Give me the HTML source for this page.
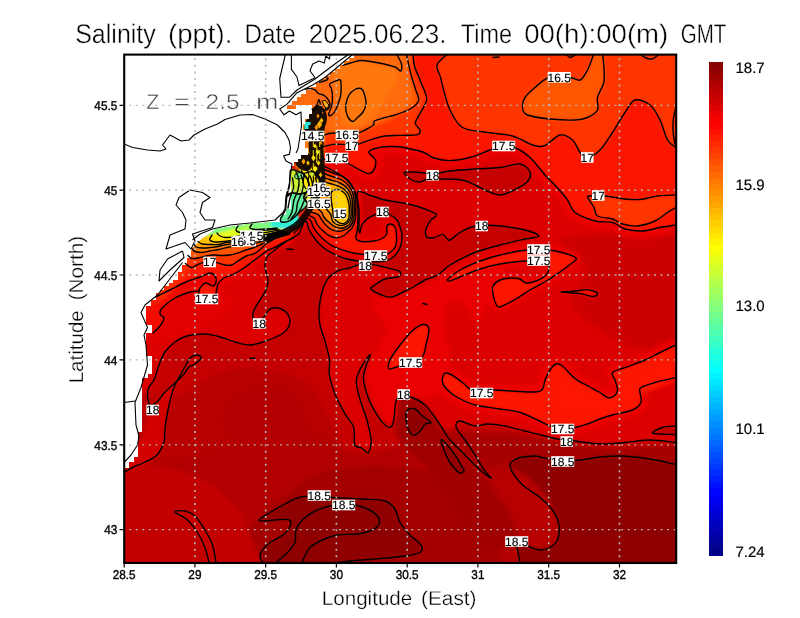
<!DOCTYPE html>
<html><head><meta charset="utf-8"><title>Salinity</title>
<style>html,body{margin:0;padding:0;background:#fff}svg{display:block}text{font-family:"Liberation Sans",sans-serif;text-rendering:geometricPrecision}</style></head><body>
<svg width="800" height="618" viewBox="0 0 800 618">
<defs>
<clipPath id="pc"><rect x="124" y="54" width="552" height="508.5"/></clipPath>
<filter id="bl" x="-5%" y="-5%" width="110%" height="110%"><feGaussianBlur stdDeviation="2.2"/></filter>
<filter id="bl2" x="-5%" y="-5%" width="110%" height="110%"><feGaussianBlur stdDeviation="1"/></filter>
<linearGradient id="jet" x1="0" y1="1" x2="0" y2="0"><stop offset="0" stop-color="#00008f"/><stop offset=".125" stop-color="#0000ff"/><stop offset=".375" stop-color="#00ffff"/><stop offset=".625" stop-color="#ffff00"/><stop offset=".875" stop-color="#ff0000"/><stop offset="1" stop-color="#800000"/></linearGradient>
</defs>
<rect width="800" height="618" fill="#fff"/>
<g clip-path="url(#pc)">
<g filter="url(#bl)">
<path d="M100 30H700V590H100Z" fill="#dc0000"/>
<path d="M110 580L110 472.5L124 472.5L132.5 467.5L145 462L157 455L164 442L165 430L167 415L171 397L175 385L182 372L186 365L190 358L197 355L201 358L195 364L189 367L184 374L175 383L165 392L157 402L150 406L147.5 397L149 387L154 380L159 365L165 352L175 342L187 336L205 334L217 336L235 342L250 345L266 341L282 334L288 328L290 320L286 312L278 308L270 309L266 314L259 323L253 318L254 310L260 300L266 290L268 280L265 267L267 257L275 250L287 241L299 234L302.5 226L304.6 221.2L307 222.5L308.4 228.2L312.3 235L318.2 242.7L325.9 249.5L336.6 255.3L346 258.7L358 261L375 262L387 260.5L392 258L397 253L401 245L402 235L401 230L397 220L389 214L382 212L376 214L367 219L361.5 226L360.2 232.3L359 230L359 211L357.5 192L369 195L385 200L400 202.5L412.5 205L425 209L436.5 214.5L430.5 220.6L426 229L426.5 237L434 237.7L442 234.4L447 238.5L450 240L460 232.5L470 227.5L481 225.5L500 226L525 230L539 236L525 239L500 245L475 252.5L450 265L437.5 275L425 280L412.5 287.5L405 291L392 297L382 295L371 289L375 285L385 279L398 277L400.5 274L399 271L390 268.5L380 266L371 264.5L358 265L350 268L340 270L333 274L327 280L322 292L319 310L320 325L324.6 340L329.4 359.4L329.4 375L335.2 394.4L345 413.8L353.7 427.4L354.7 444.9L361.5 447.8L368.3 452.6L371.2 441L369.2 429.3L366.3 417.7L361.5 404L357.6 390.5L356.6 378.8L362.4 365.2L370.2 354.6L366.3 365.2L363.4 376.9L365.3 388.5L369.2 400.2L374 409.9L381.8 421.6L389.6 427.4L393.5 421.6L395.4 404L397.4 398.3L403 396L412 397.5L425 405L435 417.5L445 432.5L450 440L462.5 452.5L475 465L482.5 472L487.5 476L491 478L487.5 474L482.5 467.5L475 455L465 440L457.5 430L456 425L460 421L475 426L487.5 424L505 426L525 431L545 436L560 439.5L575 441L600 444L625 442.5L650 440L676 442.5L690 442.5L690 580Z" fill="#c40000"/>
<path d="M404 173C403.8 171.7 407.7 172 411 172C414.3 172 420.5 172.6 424 173C427.5 173.4 427.7 174.8 432 174.5C436.3 174.2 442.8 171.9 450 171C457.2 170.1 466.7 169.6 475 169C483.3 168.4 492.5 168.3 500 167.5C507.5 166.7 515 163.2 520 164C525 164.8 528.8 169 530 172C531.2 175 530 178.8 527 182C524 185.2 516.5 188.8 512 191C507.5 193.2 504.2 195 500 195C495.8 195 491.2 192.7 487 191C482.8 189.3 479.2 186.8 475 185C470.8 183.2 468.3 181 462 180C455.7 179 442.8 179.1 437 179C431.2 178.9 429.8 178.8 427 179.3C424.2 179.8 422.5 181.9 420 182C417.5 182.1 414.7 181.5 412 180C409.3 178.5 404.2 174.3 404 173Z" fill="#c40000"/>
<path d="M676 426C673.8 426.2 666.4 426.4 662.5 427.5C658.6 428.6 652.9 431.4 652.5 432.5C652.1 433.6 656.1 433.7 660 434C663.9 434.3 673.3 434.4 676 434.5L690 434.5L690 426Z" fill="#c40000"/>
<path d="M110 400C121.7 366.7 150 405 170 400C190 395 208.3 373.3 230 370C251.7 366.7 283.3 371.7 300 380C316.7 388.3 320 405 330 420C340 435 341.7 468.3 360 470C378.3 471.7 416.7 435 440 430C463.3 425 486.7 433.3 500 440C513.3 446.7 510 443.3 520 470C530 496.7 630 578.3 560 600C490 621.7 175 633.3 100 600C25 566.7 98.3 433.3 110 400Z" fill="#b80000"/>
<path d="M124 480C140.7 455.8 170.7 463 200 455C229.3 447 274.2 432.5 300 432C325.8 431.5 338.3 449.8 355 452C371.7 454.2 385.8 448.7 400 445C414.2 441.3 423.3 430.8 440 430C456.7 429.2 486.7 433.3 500 440C513.3 446.7 510 443.3 520 470C530 496.7 630 578.3 560 600C490 621.7 172.7 620 100 600C27.3 580 107.3 504.2 124 480Z" fill="#b20000"/>
<path d="M230 400C238 393.3 258.3 385 270 385C281.7 385 294.2 390.8 300 400C305.8 409.2 308.3 430 305 440C301.7 450 290.8 458.3 280 460C269.2 461.7 249.7 455.8 240 450C230.3 444.2 223.7 433.3 222 425C220.3 416.7 222 406.7 230 400Z" fill="#b40000"/>
<path d="M330 470C353.3 465 395 465 420 470C445 475 466.7 485 480 500C493.3 515 500 543.3 500 560C500 576.7 530 593.3 480 600C430 606.7 240 610 200 600C160 590 226.7 556.7 240 540C253.3 523.3 265 511.7 280 500C295 488.3 306.7 475 330 470Z" fill="#a40000"/>
<path d="M395 400C398.3 393.3 410.8 393.3 420 400C429.2 406.7 438.3 425.8 450 440C461.7 454.2 478.3 468.3 490 485C501.7 501.7 521.7 530.8 520 540C518.3 549.2 493.3 550 480 540C466.7 530 453.3 496.7 440 480C426.7 463.3 407.5 453.3 400 440C392.5 426.7 391.7 406.7 395 400Z" fill="#a00000"/>
<path d="M440 440C445 433.7 473.3 430.8 500 432C526.7 433.2 568.3 444.8 600 447C631.7 449.2 675 441.2 690 445C705 448.8 705 466.7 690 470C675 473.3 628.3 466.3 600 465C571.7 463.7 541.7 461.2 520 462C498.3 462.8 483.3 473.7 470 470C456.7 466.3 435 446.3 440 440Z" fill="#a80000"/>
<path d="M100 475C111.7 453 149.2 464.7 170 468C190.8 471.3 211.7 483.8 225 495C238.3 506.2 244.5 517.5 250 535C255.5 552.5 283 589.2 258 600C233 610.8 126.3 620.8 100 600C73.7 579.2 88.3 497 100 475Z" fill="#c20000"/>
<path d="M216 562.5C215.4 559.6 214.3 550.4 212.5 545C210.7 539.6 207.9 534.8 205 530C202.1 525.2 198.3 519.2 195 516C191.7 512.8 188.3 511.7 185 511C181.7 510.3 174.6 510.5 175 512C175.4 513.5 183.8 516.6 187.5 520C191.2 523.4 194.6 527.9 197.5 532.5C200.4 537.1 203.1 542.5 205 547.5C206.9 552.5 208.3 560 209 562.5Z" fill="#c80000"/>
<path d="M124 473C129.8 471.7 139.5 465 145 462C150.5 459 153.8 458.3 157 455C160.2 451.7 162.7 446.2 164 442C165.3 437.8 164.5 434.5 165 430C165.5 425.5 166 420.5 167 415C168 409.5 172.2 399.5 171 397C169.8 394.5 163.5 398.2 160 400C156.5 401.8 153.3 401.3 150 408C146.7 414.7 146.7 429.7 140 440C133.3 450.3 112.7 464.5 110 470C107.3 475.5 118.2 474.3 124 473Z" fill="#d40000"/>
<path d="M372 300C374.3 294.3 388.7 299.7 400 296C411.3 292.3 426.7 283.3 440 278C453.3 272.7 469.2 265.7 480 264C490.8 262.3 503 262 505 268C507 274 497.5 289.7 492 300C486.5 310.3 477.7 318.7 472 330C466.3 341.3 463 357.7 458 368C453 378.3 449.2 387 442 392C434.8 397 422 398 415 398C408 398 403.2 388.7 400 392C396.8 395.3 398.3 413.3 396 418C393.7 422.7 389.7 423 386 420C382.3 417 377.2 407.5 374 400C370.8 392.5 367.2 382.5 367 375C366.8 367.5 369.8 362.5 373 355C376.2 347.5 386.2 339.2 386 330C385.8 320.8 369.7 305.7 372 300Z" fill="#ea0000"/>
<path d="M452 300C456.3 298.7 465.7 305.3 470 312C474.3 318.7 478 330.7 478 340C478 349.3 473.8 362.7 470 368C466.2 373.3 458.7 375.8 455 372C451.3 368.2 449.8 353.7 448 345C446.2 336.3 443.3 327.5 444 320C444.7 312.5 447.7 301.3 452 300Z" fill="#da0000"/>
<path d="M560 242C562.3 236 578.3 235.3 600 234C621.7 232.7 675 216.7 690 234C705 251.3 698.3 319 690 338C681.7 357 655 349.3 640 348C625 346.7 611.3 338 600 330C588.7 322 574.3 310 572 300C569.7 290 588 279.7 586 270C584 260.3 557.7 248 560 242Z" fill="#cc0000"/>
<path d="M160 305C168.3 297.8 189.2 294.5 200 292C210.8 289.5 219.7 287.3 225 290C230.3 292.7 235.3 302.2 232 308C228.7 313.8 216.2 319.7 205 325C193.8 330.3 174.2 338.3 165 340C155.8 341.7 150.8 340.8 150 335C149.2 329.2 151.7 312.2 160 305Z" fill="#e20000"/>
<path d="M322 160C323.2 159.8 326.7 158.8 329 158.5C331.3 158.2 332.7 157.1 336 158C339.3 158.9 344.9 161.9 349 164C353.1 166.1 357.3 168.8 360.6 170.4C363.9 172 366.6 173.6 368.8 173.6C371 173.6 372.4 172.3 373.6 170.4C374.8 168.5 376 164.2 376 162C376 159.8 374.8 159 373.6 157.4C372.4 155.8 368.8 153.9 368.8 152.5C368.8 151.1 370.9 149.9 373.6 149C376.3 148.1 380.9 147.2 385 146.8C389.1 146.4 393.7 146.4 398 146.8C402.3 147.2 406.7 148.1 411 149C415.3 149.9 420.2 151 424 152.5C427.8 154 429.5 156.7 433.8 158C438.1 159.3 444 160.7 450 160.6C456 160.5 463.3 159.3 470 157.5C476.7 155.7 484.5 151.9 490 150C495.5 148.1 498.8 146.4 503 146C507.2 145.6 510.5 145.6 515 147.5C519.5 149.4 525 152.9 530 157.5C535 162.1 540.4 169.9 545 175C549.6 180.1 553.8 183.8 557.5 188C561.2 192.2 564.6 195.9 567.5 200C570.4 204.1 570.4 209 575 212.5C579.6 216 588.8 219.3 595 221C601.2 222.7 607.5 221.2 612.5 222.5C617.5 223.8 620 227.6 625 229C630 230.4 636.7 231.2 642.5 231C648.3 230.8 654.4 228.5 660 227.5C665.6 226.5 673.3 225.4 676 225" fill="none" stroke="#ea0000" stroke-width="16" stroke-linejoin="round"/>
<path d="M294 233C295 232 298.2 229.1 300 227C301.8 224.9 303.8 221.9 305 220.5C306.2 219.1 306.5 218.3 307.5 218.4C308.5 218.5 309.9 219.4 310.9 220.9C311.9 222.4 312.1 225 313.3 227.2C314.5 229.4 316.2 231.7 318.2 234C320.1 236.3 322.4 238.7 325 240.8C327.6 242.9 330.5 245 333.7 246.6C336.9 248.2 341.3 249.5 344.4 250.5C347.4 251.5 348.7 252.1 352 252.8C355.3 253.5 360 254.1 364 254.5C368 254.9 372.2 255.6 376 255.5C379.8 255.4 384.2 254.9 387 254C389.8 253.1 391.5 251.5 393 250C394.5 248.5 395.4 247.5 396 245C396.6 242.5 396.7 238 396.5 235C396.3 232 396.1 228.8 395 227C393.9 225.2 391.4 224 390 224C388.6 224 387.2 225.4 386.7 227C386.1 228.6 387.5 231.8 386.7 233.7C385.9 235.6 384.2 237.3 382 238.5C379.8 239.7 377 240.5 373.7 241C370.4 241.5 364.9 241.9 362 241.5C359.1 241.1 356.8 240.4 356 238.5C355.2 236.6 357 233.4 357.3 230C357.6 226.6 357.9 222.2 358 218C358.1 213.8 358.2 209.2 357.8 205C357.4 200.8 356.8 196.6 355.5 193C354.2 189.4 352.2 186.3 350 183.5C347.8 180.7 345 178.2 342 176C339 173.8 335 171.7 332 170C329 168.3 325.3 166.7 324 166" fill="none" stroke="#ea0000" stroke-width="8" stroke-linejoin="round"/>
<path d="M293.6 238.2C292 238.9 286.8 240.8 283.8 242.3C280.8 243.8 278.4 245.7 275.7 247C273 248.3 270.1 249 267.6 250.4C265.2 251.8 263.6 253.4 261 255.3C258.4 257.2 254.8 259.9 252 262C249.2 264.1 247 266 244 268C241 270 237.3 272.3 234 274C230.7 275.7 226.7 276.3 224 278C221.3 279.7 219.3 281.5 218 284C216.7 286.5 217 290.5 216 293C215 295.5 214.7 298 212 299C209.3 300 202.2 300 200 299C197.8 298 199 294.8 199 293C199 291.2 198.8 289.7 200 288C201.2 286.3 203.8 283.3 206 283C208.2 282.7 211.3 286.2 213 286C214.7 285.8 215.7 283.7 216 282C216.3 280.3 216 277.5 215 276C214 274.5 212.5 272.8 210 273C207.5 273.2 204 275.5 200 277C196 278.5 191 279.8 186 282C181 284.2 175 287.5 170 290C165 292.5 158.3 295.8 156 297" fill="none" stroke="#ea0000" stroke-width="10" stroke-linejoin="round"/>
<path d="M448 279C449.7 277.2 454.7 273 460 270C465.3 267 473.3 263.5 480 261C486.7 258.5 492.3 256.8 500 255C507.7 253.2 517.8 250.8 526 250C534.2 249.2 542.7 249.5 549 250C555.3 250.5 559.5 251.7 564 253C568.5 254.3 574.7 256.3 576 258C577.3 259.7 574.7 260.7 572 263C569.3 265.3 564 269.2 560 272C556 274.8 553 277 548 280C543 283 535.3 286.8 530 290C524.7 293.2 521 296.2 516 299C511 301.8 503.3 306.2 500 307C496.7 307.8 497.2 306.2 496 304C494.8 301.8 493.5 297 493 294C492.5 291 491.8 288.3 493 286C494.2 283.7 497.2 281.3 500 280C502.8 278.7 506.7 278.2 510 278C513.3 277.8 517.3 278.2 520 279C522.7 279.8 523.3 282.7 526 283C528.7 283.3 532.7 282.3 536 281C539.3 279.7 543.8 277.5 546 275C548.2 272.5 549.2 268.2 549 266C548.8 263.8 546.8 262.3 545 261.5C543.2 260.7 541.2 261.1 538 261C534.8 260.9 532.3 260.5 526 261C519.7 261.5 507.7 262.7 500 264C492.3 265.3 486.7 266.8 480 269C473.3 271.2 465 275 460 277C455 279 452 280.7 450 281C448 281.3 446.3 280.8 448 279Z" fill="none" stroke="#ea0000" stroke-width="10" stroke-linejoin="round"/>
<path d="M389 369C387.3 368 388.2 364 390 360C391.8 356 396.3 349.8 400 345C403.7 340.2 408.2 334.4 412 331C415.8 327.6 420.2 324.8 423 324.5C425.8 324.2 428.5 325.6 429 329C429.5 332.4 427 340.5 426 345C425 349.5 424.8 353 423 356C421.2 359 418.8 361.3 415 363C411.2 364.7 404.3 365 400 366C395.7 367 390.7 370 389 369Z" fill="none" stroke="#ea0000" stroke-width="10" stroke-linejoin="round"/>
<path d="M676 345C673.3 346.2 665.2 350 660 352.5C654.8 355 650.8 357.5 645 360C639.2 362.5 630.4 365.4 625 367.5C619.6 369.6 614.2 370.4 612.5 372.5C610.8 374.6 614.2 377.1 615 380C615.8 382.9 617.7 387.3 617.5 390C617.3 392.7 615.7 394.8 614 396C612.3 397.2 609.8 398.1 607.5 397.5C605.2 396.9 602.9 394.2 600 392.5C597.1 390.8 594.2 389.3 590 387C585.8 384.7 579.6 382 575 378.5C570.4 375 565.7 368.4 562.5 366C559.3 363.6 558.1 363.3 556 364C553.9 364.7 551.8 367.3 550 370C548.2 372.7 546.2 376.8 545 380C543.8 383.2 544.2 387 542.5 389C540.8 391 540 391.7 535 392C530 392.3 519.2 391.3 512.5 391C505.8 390.7 500.2 390.1 495 390C489.8 389.9 485.2 390.7 481 390.5C476.8 390.3 473.1 390.3 470 389C466.9 387.7 465.8 385 462.5 382.5C459.2 380 453.1 375.4 450 374C446.9 372.6 445.2 372.6 444 374C442.8 375.4 441.9 379.8 442.5 382.5C443.1 385.2 445 387.5 447.5 390C450 392.5 452.9 395 457.5 397.5C462.1 400 467.9 403.1 475 405C482.1 406.9 492.5 407.8 500 409C507.5 410.2 513.8 410.7 520 412.5C526.2 414.3 532.5 417.8 537.5 420C542.5 422.2 545.9 424.6 550 426C554.1 427.4 557.8 428.2 562 428.5C566.2 428.8 570.8 428.2 575 427.5C579.2 426.8 583.3 425.4 587.5 424C591.7 422.6 595.8 420.5 600 419C604.2 417.5 607.1 416.5 612.5 415C617.9 413.5 627.8 412.1 632.5 410C637.2 407.9 639.8 405.4 641 402.5C642.2 399.6 640 395 640 392.5C640 390 638.5 389.2 641 387.5C643.5 385.8 649.2 384.2 655 382.5C660.8 380.8 672.5 378.3 676 377.5" fill="none" stroke="#ea0000" stroke-width="14" stroke-linejoin="round"/>
<path d="M404 173C403.8 171.7 407.7 172 411 172C414.3 172 420.5 172.6 424 173C427.5 173.4 427.7 174.8 432 174.5C436.3 174.2 442.8 171.9 450 171C457.2 170.1 466.7 169.6 475 169C483.3 168.4 492.5 168.3 500 167.5C507.5 166.7 515 163.2 520 164C525 164.8 528.8 169 530 172C531.2 175 530 178.8 527 182C524 185.2 516.5 188.8 512 191C507.5 193.2 504.2 195 500 195C495.8 195 491.2 192.7 487 191C482.8 189.3 479.2 186.8 475 185C470.8 183.2 468.3 181 462 180C455.7 179 442.8 179.1 437 179C431.2 178.9 429.8 178.8 427 179.3C424.2 179.8 422.5 181.9 420 182C417.5 182.1 414.7 181.5 412 180C409.3 178.5 404.2 174.3 404 173Z" fill="#c40000"/>
<path d="M322 160C323.2 159.8 326.7 158.8 329 158.5C331.3 158.2 332.7 157.1 336 158C339.3 158.9 344.9 161.9 349 164C353.1 166.1 357.3 168.8 360.6 170.4C363.9 172 366.6 173.6 368.8 173.6C371 173.6 372.4 172.3 373.6 170.4C374.8 168.5 376 164.2 376 162C376 159.8 374.8 159 373.6 157.4C372.4 155.8 368.8 153.9 368.8 152.5C368.8 151.1 370.9 149.9 373.6 149C376.3 148.1 380.9 147.2 385 146.8C389.1 146.4 393.7 146.4 398 146.8C402.3 147.2 406.7 148.1 411 149C415.3 149.9 420.2 151 424 152.5C427.8 154 429.5 156.7 433.8 158C438.1 159.3 444 160.7 450 160.6C456 160.5 463.3 159.3 470 157.5C476.7 155.7 484.5 151.9 490 150C495.5 148.1 498.8 146.4 503 146C507.2 145.6 510.5 145.6 515 147.5C519.5 149.4 525 152.9 530 157.5C535 162.1 540.4 169.9 545 175C549.6 180.1 553.8 183.8 557.5 188C561.2 192.2 564.6 195.9 567.5 200C570.4 204.1 570.4 209 575 212.5C579.6 216 588.8 219.3 595 221C601.2 222.7 607.5 221.2 612.5 222.5C617.5 223.8 620 227.6 625 229C630 230.4 636.7 231.2 642.5 231C648.3 230.8 654.4 228.5 660 227.5C665.6 226.5 673.3 225.4 676 225L690 225L690 40L280 40L280 160Z" fill="#fb1200"/>
<path d="M294 233C295 232 298.2 229.1 300 227C301.8 224.9 303.8 221.9 305 220.5C306.2 219.1 306.5 218.3 307.5 218.4C308.5 218.5 309.9 219.4 310.9 220.9C311.9 222.4 312.1 225 313.3 227.2C314.5 229.4 316.2 231.7 318.2 234C320.1 236.3 322.4 238.7 325 240.8C327.6 242.9 330.5 245 333.7 246.6C336.9 248.2 341.3 249.5 344.4 250.5C347.4 251.5 348.7 252.1 352 252.8C355.3 253.5 360 254.1 364 254.5C368 254.9 372.2 255.6 376 255.5C379.8 255.4 384.2 254.9 387 254C389.8 253.1 391.5 251.5 393 250C394.5 248.5 395.4 247.5 396 245C396.6 242.5 396.7 238 396.5 235C396.3 232 396.1 228.8 395 227C393.9 225.2 391.4 224 390 224C388.6 224 387.2 225.4 386.7 227C386.1 228.6 387.5 231.8 386.7 233.7C385.9 235.6 384.2 237.3 382 238.5C379.8 239.7 377 240.5 373.7 241C370.4 241.5 364.9 241.9 362 241.5C359.1 241.1 356.8 240.4 356 238.5C355.2 236.6 357 233.4 357.3 230C357.6 226.6 357.9 222.2 358 218C358.1 213.8 358.2 209.2 357.8 205C357.4 200.8 356.8 196.6 355.5 193C354.2 189.4 352.2 186.3 350 183.5C347.8 180.7 345 178.2 342 176C339 173.8 335 171.7 332 170C329 168.3 325.3 166.7 324 166L322 180L310 200L300 215Z" fill="#fb1200"/>
<path d="M293.6 238.2C292 238.9 286.8 240.8 283.8 242.3C280.8 243.8 278.4 245.7 275.7 247C273 248.3 270.1 249 267.6 250.4C265.2 251.8 263.6 253.4 261 255.3C258.4 257.2 254.8 259.9 252 262C249.2 264.1 247 266 244 268C241 270 237.3 272.3 234 274C230.7 275.7 226.7 276.3 224 278C221.3 279.7 219.3 281.5 218 284C216.7 286.5 217 290.5 216 293C215 295.5 214.7 298 212 299C209.3 300 202.2 300 200 299C197.8 298 199 294.8 199 293C199 291.2 198.8 289.7 200 288C201.2 286.3 203.8 283.3 206 283C208.2 282.7 211.3 286.2 213 286C214.7 285.8 215.7 283.7 216 282C216.3 280.3 216 277.5 215 276C214 274.5 212.5 272.8 210 273C207.5 273.2 204 275.5 200 277C196 278.5 191 279.8 186 282C181 284.2 175 287.5 170 290C165 292.5 158.3 295.8 156 297L140 300L180 240L290 222Z" fill="#fb1200"/>
<path d="M199 291C197.5 291.2 194 290.8 190 292C186 293.2 179.7 295.3 175 298C170.3 300.7 164.5 305.3 162 308C159.5 310.7 159.7 312.3 160 314C160.3 315.7 164 316 164 318C164 320 161.8 323.5 160 326C158.2 328.5 154.2 331.8 153 333L140 335L140 300L199 285Z" fill="#f20800"/>
<path d="M448 279C449.7 277.2 454.7 273 460 270C465.3 267 473.3 263.5 480 261C486.7 258.5 492.3 256.8 500 255C507.7 253.2 517.8 250.8 526 250C534.2 249.2 542.7 249.5 549 250C555.3 250.5 559.5 251.7 564 253C568.5 254.3 574.7 256.3 576 258C577.3 259.7 574.7 260.7 572 263C569.3 265.3 564 269.2 560 272C556 274.8 553 277 548 280C543 283 535.3 286.8 530 290C524.7 293.2 521 296.2 516 299C511 301.8 503.3 306.2 500 307C496.7 307.8 497.2 306.2 496 304C494.8 301.8 493.5 297 493 294C492.5 291 491.8 288.3 493 286C494.2 283.7 497.2 281.3 500 280C502.8 278.7 506.7 278.2 510 278C513.3 277.8 517.3 278.2 520 279C522.7 279.8 523.3 282.7 526 283C528.7 283.3 532.7 282.3 536 281C539.3 279.7 543.8 277.5 546 275C548.2 272.5 549.2 268.2 549 266C548.8 263.8 546.8 262.3 545 261.5C543.2 260.7 541.2 261.1 538 261C534.8 260.9 532.3 260.5 526 261C519.7 261.5 507.7 262.7 500 264C492.3 265.3 486.7 266.8 480 269C473.3 271.2 465 275 460 277C455 279 452 280.7 450 281C448 281.3 446.3 280.8 448 279Z" fill="#fb1200"/>
<path d="M561 292C560.3 291.6 571.8 291.4 576 291C580.2 290.6 582.7 289.4 586 289.6C589.3 289.8 594.2 291.1 596 292C597.8 292.9 597.7 294.3 597 295C596.3 295.7 594.8 296.6 592 296.4C589.2 296.2 585.2 294.3 580 293.6C574.8 292.9 561.7 292.4 561 292Z" fill="#fb1200"/>
<path d="M389 369C387.3 368 388.2 364 390 360C391.8 356 396.3 349.8 400 345C403.7 340.2 408.2 334.4 412 331C415.8 327.6 420.2 324.8 423 324.5C425.8 324.2 428.5 325.6 429 329C429.5 332.4 427 340.5 426 345C425 349.5 424.8 353 423 356C421.2 359 418.8 361.3 415 363C411.2 364.7 404.3 365 400 366C395.7 367 390.7 370 389 369Z" fill="#fb1200"/>
<path d="M676 345C673.3 346.2 665.2 350 660 352.5C654.8 355 650.8 357.5 645 360C639.2 362.5 630.4 365.4 625 367.5C619.6 369.6 614.2 370.4 612.5 372.5C610.8 374.6 614.2 377.1 615 380C615.8 382.9 617.7 387.3 617.5 390C617.3 392.7 615.7 394.8 614 396C612.3 397.2 609.8 398.1 607.5 397.5C605.2 396.9 602.9 394.2 600 392.5C597.1 390.8 594.2 389.3 590 387C585.8 384.7 579.6 382 575 378.5C570.4 375 565.7 368.4 562.5 366C559.3 363.6 558.1 363.3 556 364C553.9 364.7 551.8 367.3 550 370C548.2 372.7 546.2 376.8 545 380C543.8 383.2 544.2 387 542.5 389C540.8 391 540 391.7 535 392C530 392.3 519.2 391.3 512.5 391C505.8 390.7 500.2 390.1 495 390C489.8 389.9 485.2 390.7 481 390.5C476.8 390.3 473.1 390.3 470 389C466.9 387.7 465.8 385 462.5 382.5C459.2 380 453.1 375.4 450 374C446.9 372.6 445.2 372.6 444 374C442.8 375.4 441.9 379.8 442.5 382.5C443.1 385.2 445 387.5 447.5 390C450 392.5 452.9 395 457.5 397.5C462.1 400 467.9 403.1 475 405C482.1 406.9 492.5 407.8 500 409C507.5 410.2 513.8 410.7 520 412.5C526.2 414.3 532.5 417.8 537.5 420C542.5 422.2 545.9 424.6 550 426C554.1 427.4 557.8 428.2 562 428.5C566.2 428.8 570.8 428.2 575 427.5C579.2 426.8 583.3 425.4 587.5 424C591.7 422.6 595.8 420.5 600 419C604.2 417.5 607.1 416.5 612.5 415C617.9 413.5 627.8 412.1 632.5 410C637.2 407.9 639.8 405.4 641 402.5C642.2 399.6 640 395 640 392.5C640 390 638.5 389.2 641 387.5C643.5 385.8 649.2 384.2 655 382.5C660.8 380.8 672.5 378.3 676 377.5L690 377.5L690 345Z" fill="#fb1200"/>
<path d="M560 385C566.7 384.2 586.7 400.8 600 400C613.3 399.2 627.3 385.8 640 380C652.7 374.2 667.7 366.3 676 365C684.3 363.7 696 367 690 372C684 377 655 388.3 640 395C625 401.7 613.3 410.3 600 412C586.7 413.7 566.7 409.5 560 405C553.3 400.5 553.3 385.8 560 385Z" fill="#ff1400"/>
<path d="M322 147C323.8 146.6 329.3 144.8 333 144.4C336.7 144 341 144.3 344 144.4C347 144.5 348.8 145 351 145C353.2 145 354.4 145.2 357.4 144.4C360.4 143.6 364.2 141.7 368.8 140.3C373.4 138.9 379.6 136.8 385 136C390.4 135.2 395.6 135.6 401 135.4C406.4 135.2 414.3 135.5 417.5 134.6C420.7 133.7 420.4 131.7 420 129.8C419.6 127.9 415.2 126 415.4 123C415.6 120 419.1 115.8 421 111.8C422.9 107.8 426.7 103.7 426.7 98.8C426.7 93.9 423 88 421 82.5C419 77 415.8 70.8 414.5 66C413.2 61.2 413.2 56 413 54L413 40L280 40L280 147Z" fill="#ff3400"/>
<path d="M447.5 54C445.8 55.8 438.1 61.1 437 65C435.9 68.9 439.5 73.3 440.6 77.6C441.7 81.9 442.2 85.2 443.8 90.6C445.4 96 446.9 103.8 450 110C453.1 116.2 456.2 123.8 462.5 127.5C468.8 131.2 479.2 131.1 487.5 132.5C495.8 133.9 505 133.9 512.5 136C520 138.1 527.1 143.4 532.5 145C537.9 146.6 540.4 147.2 545 145.5C549.6 143.8 555.4 135.9 560 135C564.6 134.1 569.2 137.1 572.5 140C575.8 142.9 577.6 149.5 580 152.5C582.4 155.5 583.7 158.4 587 158C590.3 157.6 595.8 154.2 600 150C604.2 145.8 608.3 138.8 612.5 132.5C616.7 126.2 621.2 117.9 625 112.5C628.8 107.1 630.8 101.2 635 100C639.2 98.8 645.8 101.7 650 105C654.2 108.3 657.1 114.2 660 120C662.9 125.8 664.8 135.4 667.5 140C670.2 144.6 674.6 146.2 676 147.5L690 147.5L690 40L447.5 40Z" fill="#ff3400"/>
<path d="M676 195C672.9 195.2 663.5 195.2 657.5 196C651.5 196.8 645.4 199 640 199.5C634.6 200 630.8 199.6 625 199C619.2 198.4 610.8 196.5 605 196C599.2 195.5 592.8 195.7 590 196C587.2 196.3 587.3 196.1 588 198C588.7 199.9 592.4 204.5 594 207.5C595.6 210.5 594.4 214.1 597.5 216C600.6 217.9 608.3 217.7 612.5 219C616.7 220.3 618.3 222.8 622.5 224C626.7 225.2 632.1 226.5 637.5 226C642.9 225.5 650 223.2 655 221C660 218.8 664 214.8 667.5 212.5C671 210.2 674.6 208.3 676 207.5L690 207.5L690 195Z" fill="#ff3400"/>
<path d="M290 234C289 234.3 286.5 235 283.8 235.8C281.1 236.6 277 237.6 274 239C271 240.4 268.2 242.4 266 244C263.8 245.6 262.9 247.2 261 248.8C259.1 250.4 256.9 252.4 254.5 253.6C252.1 254.8 249.2 254.8 246.4 256C243.7 257.2 240.4 259.5 238 261C235.6 262.5 234 264.3 231.8 265C229.6 265.7 227.5 265.4 225 265C222.5 264.6 219.7 263.1 217 262.6C214.3 262.1 211.4 262 209 262C206.6 262 204.7 262 202.5 262.6C200.3 263.2 197.9 264.7 196 265.5C194.1 266.3 192.8 267.9 191 267.5C189.2 267.1 186.3 264.1 185.4 263.4L170 265L190 235L290 220Z" fill="#ff3400"/>
<path d="M185 263C188.5 262.6 190.8 265.5 191 267.5C191.2 269.5 188.5 271.9 186 275C183.5 278.1 179.3 282.5 176 286C172.7 289.5 169 293.5 166 296C163 298.5 160.7 300.3 158 301C155.3 301.7 148 305.2 150 300C152 294.8 164.2 276.2 170 270C175.8 263.8 181.5 263.4 185 263Z" fill="#ff2c00"/>
<path d="M320 137C321.3 136.5 325.3 134.5 328 133.8C330.7 133.1 333 132.9 336 133C339 133.1 342.3 134.5 346 134.5C349.7 134.5 354.5 133.9 358 133C361.5 132.1 364.4 130.3 367 129C369.6 127.7 372.4 126.2 373.6 124.9C374.9 123.6 372.6 122.2 374.5 121C376.4 119.8 381.6 118.5 385 117.5C388.4 116.5 390.7 116.5 395 115C399.3 113.5 407.1 110.9 411 108.5C414.9 106.1 417.8 103.4 418.6 100.4C419.4 97.4 417.3 94.9 416 90.6C414.7 86.3 412.6 80.5 411 74.4C409.4 68.3 407.2 57.4 406.4 54L406 40L280 40L280 137Z" fill="#ff5600"/>
<path d="M593.8 54C592.7 56.7 589.8 65.7 587.5 70C585.2 74.3 582.9 78.8 580 80C577.1 81.2 575.2 77.9 570 77.5C564.8 77.1 554.8 75.8 549 77.5C543.2 79.2 539 84.2 535 87.5C531 90.8 527.1 94.2 525 97.5C522.9 100.8 522.1 104.6 522.5 107.5C522.9 110.4 522.9 113.1 527.5 115C532.1 116.9 542.1 118.2 550 119C557.9 119.8 568.8 120.2 575 120C581.2 119.8 583.8 119.2 587.5 117.5C591.2 115.8 595.8 113.3 597.5 110C599.2 106.7 596.5 102.1 597.5 97.5C598.5 92.9 602.7 87.9 603.8 82.5C604.8 77.1 604 69.8 603.8 65C603.5 60.2 602.7 55.8 602.5 54L602.5 40L593.8 40Z" fill="#ff5600"/>
<path d="M343 65.4C344.5 64.9 348.8 63.3 352 62.5C355.2 61.7 358 60.4 362.5 60.5C367 60.6 373.6 61.9 379 63C384.4 64.1 391.4 65.7 395 67C398.6 68.3 399.6 71.5 400.7 71C401.8 70.5 402.2 66.8 401.5 64C400.8 61.2 397.4 55.7 396.6 54L396.6 40L330 40L330 65Z" fill="#ff7812"/>
<path d="M346 104C346.5 101.3 347.5 97.4 349 95C350.5 92.6 353 90.6 355 89.5C357 88.4 359.5 87.9 361 88.5C362.5 89.1 363.2 90.4 364 93C364.8 95.6 366.2 100.8 366 104C365.8 107.2 364.5 109.7 363 112C361.5 114.3 358.7 116.4 357 118C355.3 119.6 354.4 121.5 353 121.5C351.6 121.5 349.7 119.8 348.5 118C347.3 116.2 346.4 113.3 346 111C345.6 108.7 345.5 106.7 346 104Z" fill="#ff7812"/>
<path d="M329.5 84.3C330.1 83.1 333 82 334.8 81.3C336.6 80.6 339.1 79.2 340.2 79.9C341.2 80.6 341 83.1 341.1 85.7C341.2 88.3 341.3 92.2 340.7 95.4C340.1 98.6 338.8 102.2 337.7 105.1C336.6 108 335.3 111.1 333.9 112.9C332.5 114.7 330.3 115.8 329.5 115.8C328.7 115.8 328.6 114.7 329 112.9C329.4 111.1 331.3 108 331.9 105.1C332.5 102.2 332.5 98.2 332.4 95.4C332.3 92.7 331.9 90.4 331.4 88.6C330.9 86.8 328.9 85.5 329.5 84.3Z" fill="#ff4a08"/>
<path d="M300 50C318.3 40 382 45.8 400 50C418 54.2 406 66.7 408 75C410 83.3 414.2 93.2 412 100C409.8 106.8 402 111.7 395 116C388 120.3 380 123.3 370 126C360 128.7 344.2 132.7 335 132C325.8 131.3 322.5 125.7 315 122C307.5 118.3 292.5 122 290 110C287.5 98 281.7 60 300 50Z" fill="#ff6a08"/>
<path d="M335 62C342 56.3 369.5 64 380 66C390.5 68 397.2 68.3 398 74C398.8 79.7 390.5 92 385 100C379.5 108 371.7 118 365 122C358.3 126 349.5 127.7 345 124C340.5 120.3 339.7 110.3 338 100C336.3 89.7 328 67.7 335 62Z" fill="#ff780e"/>
<path d="M520 562.5C519.6 560.2 518.2 552.6 517.5 549C516.8 545.4 514.3 541.5 516 541C517.7 540.5 523.5 544.5 527.5 546C531.5 547.5 536.2 549.8 540 550C543.8 550.2 547.1 549.2 550 547.5C552.9 545.8 556 543.8 557.5 540C559 536.2 559.8 530 559 525C558.2 520 555.7 514.6 552.5 510C549.3 505.4 545 501.7 540 497.5C535 493.3 527.1 489.2 522.5 485C517.9 480.8 514.6 475.8 512.5 472.5C510.4 469.2 509.9 466.9 510 465C510.1 463.1 511.3 462.2 513 461C514.7 459.8 516.3 458.3 520 457.5C523.7 456.7 530 455.8 535 456C540 456.2 543.3 458.2 550 459C556.7 459.8 566.7 460.8 575 460.5C583.3 460.2 592.5 457.8 600 457C607.5 456.2 611.7 455.7 620 456C628.3 456.3 640.7 457.6 650 459C659.3 460.4 671.7 463.6 676 464.5L690 464.5L690 580L520 580Z" fill="#8f0000"/>
<path d="M441 440C441.2 438.8 442.7 440 445 442.5C447.3 445 452.1 450.8 455 455C457.9 459.2 461 464.8 462.5 467.5C464 470.2 464.6 470.2 464 471C463.4 471.8 461.3 473.9 459 472.5C456.7 471.1 452.5 466.2 450 462.5C447.5 458.8 445.5 453.8 444 450C442.5 446.2 440.8 441.2 441 440Z" fill="#8f0000"/>
<path d="M407.5 410C409 408.2 412.5 408 415 409C417.5 410 419.8 413.8 422.5 416C425.2 418.2 430.6 421.2 431 422.5C431.4 423.8 426.7 422.8 425 424C423.3 425.2 422.7 428.2 421 430C419.3 431.8 416.8 434.6 415 435C413.2 435.4 411.5 435 410 432.5C408.5 430 406.4 423.8 406 420C405.6 416.2 406 411.8 407.5 410Z" fill="#8f0000"/>
<path d="M337.5 562.5C339.6 562.2 343.8 561.6 350 561C356.2 560.4 365.8 559.8 375 559C384.2 558.2 397.5 557.1 405 556C412.5 554.9 417.3 554.3 420 552.5C422.7 550.7 422.7 547.9 421 545C419.3 542.1 413.5 538.8 410 535C406.5 531.2 402.5 526.8 400 522.5C397.5 518.2 397.5 512.6 395 509C392.5 505.4 390.4 502.7 385 501C379.6 499.3 371.2 499.6 362.5 499C353.8 498.4 339.9 498 332.5 497.5C325.1 497 323.6 496 318 496C312.4 496 304.5 496.2 299 497.5C293.5 498.8 289.8 501.5 285 504C280.2 506.5 274.3 509.8 270 512.5C265.7 515.2 258.2 519.2 259 520.5C259.8 521.8 270.2 520.2 275 520C279.8 519.8 284.8 519 287.5 519.5C290.2 520 291.4 520.7 291 523C290.6 525.3 288.5 530.2 285 533.5C281.5 536.8 273.8 539.8 270 542.5C266.2 545.2 264.2 547.6 262.5 550C260.8 552.4 259.9 554.9 260 557C260.1 559.1 262.5 561.6 263 562.5L263 580L337.5 580Z" fill="#8f0000"/>
<path d="M516 470C524.3 472.5 538.2 486.7 545 495C551.8 503.3 555.7 512.2 557 520C558.3 527.8 556.7 537.7 553 542C549.3 546.3 540.5 546.3 535 546C529.5 545.7 524.5 547.7 520 540C515.5 532.3 512.2 510 508 500C503.8 490 493.7 485 495 480C496.3 475 507.7 467.5 516 470Z" fill="#b80000"/>
</g>
<g filter="url(#bl2)">
<path d="M323 169C324.7 169.7 329.5 171.7 333 173C336.5 174.3 341 175.2 344 177C347 178.8 349.2 181.2 351 184C352.8 186.8 354.2 190.3 355 194C355.8 197.7 355.8 201.8 355.8 206C355.9 210.2 355.9 215.3 355.3 219C354.7 222.7 353.2 225.9 352 228C350.8 230.1 349.6 230.2 348.3 231.5C347 232.8 345.9 234.4 344 235.5C342.1 236.6 339.1 237.9 336.6 237.9C334.1 237.9 331.2 236.7 328.8 235.4C326.4 234.1 323.9 231.9 322 230.1C320.1 228.2 318.5 226.2 317.2 224.3C315.9 222.4 315.6 219.9 314.3 218.4C313 216.9 310.2 216 309.4 215.5L305 205L305 190L315 170Z" fill="#ff2e00"/>
<path d="M322.5 173C324.1 173.6 328.8 175.3 332 176.5C335.2 177.7 339.2 178.4 342 180C344.8 181.6 347.1 183.5 349 186C350.9 188.5 352.4 191.7 353.3 195C354.2 198.3 354.1 202.2 354.2 206C354.3 209.8 354.4 214.7 353.8 218C353.2 221.3 351.8 224.2 350.5 226C349.2 227.8 348 228.2 346.3 229.1C344.6 229.9 342.8 230.9 340.5 231.1C338.2 231.3 335.1 231.1 332.7 230.1C330.3 229.1 327.8 227.1 325.9 225.2C324 223.3 322.4 220.7 321.1 218.9C319.8 217.1 319.9 215.7 318.2 214.6C316.5 213.5 312.1 212.5 310.9 212.1L305 205L305 190L315 170Z" fill="#ff5a00"/>
<path d="M322 177C323.5 177.5 328 179 331 180C334 181 337.3 181.7 340 183C342.7 184.3 345.1 185.8 347 188C348.9 190.2 350.6 193 351.5 196C352.4 199 352.5 202.5 352.6 206C352.7 209.5 352.8 214 352.3 217C351.8 220 350.4 222.5 349.5 224C348.6 225.5 348 225.5 346.8 226.2C345.6 226.9 344.3 228 342.4 228.2C340.5 228.4 337.9 228.2 335.6 227.2C333.3 226.2 330.8 224.1 328.8 222.3C326.8 220.5 324.6 218.1 323.5 216.5C322.4 214.9 322.9 213.8 322 212.6C321.1 211.3 318.7 209.6 318 209L305 205L305 190L315 170Z" fill="#ff8600"/>
<path d="M322 181C323.3 181.4 327.3 182.7 330 183.5C332.7 184.3 335.5 184.9 338 186C340.5 187.1 343.1 188.2 345 190C346.9 191.8 348.5 194.3 349.5 197C350.5 199.7 350.8 202.8 351 206C351.2 209.2 351.4 213.3 351 216C350.6 218.7 349.4 220.8 348.3 222.3C347.2 223.8 346 224.3 344.4 224.8C342.8 225.3 340.4 225.8 338.5 225.2C336.6 224.6 334 223.2 332.7 221.4C331.4 219.6 331.8 216.6 330.8 214.6C329.8 212.6 328.4 211.5 326.9 209.7C325.4 207.9 322.8 204.9 322 204L305 205L305 190L315 170Z" fill="#ffae00"/>
<path d="M331.5 192C332.3 190.8 334.4 189.8 336 189.5C337.6 189.2 339.3 189.6 341 190.5C342.7 191.4 344.7 192.9 346 195C347.3 197.1 348.2 200.2 348.8 203C349.4 205.8 349.4 209.3 349.3 212C349.2 214.7 349.3 217.1 348.5 219C347.7 220.9 346.1 222.8 344.4 223.3C342.7 223.9 340.3 223.3 338.5 222.3C336.7 221.3 334.7 219.6 333.7 217.5C332.7 215.4 333 212 332.7 209.7C332.4 207.4 332 206 331.7 203.9C331.4 201.8 331 199 331 197C331 195 330.7 193.2 331.5 192Z" fill="#ffc400"/>
<path d="M335 194C336.1 192.5 339.2 193 341 194C342.8 195 344.7 197.3 345.5 200C346.3 202.7 346.2 207.2 346 210C345.8 212.8 345.2 215.7 344 217C342.8 218.3 340.3 218.8 339 218C337.7 217.2 336.8 214.5 336 212C335.2 209.5 334.7 206 334.5 203C334.3 200 333.9 195.5 335 194Z" fill="#ffd400"/>
<path d="M290 233C288.3 233.6 283.3 235.3 280 236.5C276.7 237.7 273 238.8 270 240C267 241.2 264.7 242.8 262 244C259.3 245.2 256.7 246.5 254 247.5C251.3 248.5 248.7 249.1 246 250C243.3 250.9 240.7 252.2 238 253C235.3 253.8 232.7 254.6 230 255C227.3 255.4 224.7 255.5 222 255.5C219.3 255.5 216.7 254.9 214 255C211.3 255.1 208.7 255.5 206 256C203.3 256.5 200.3 257.6 198 258C195.7 258.4 193.7 258.9 192 258.5C190.3 258.1 188.7 256 188 255.5L190 240L205 226L292 212Z" fill="#ff5400"/>
<path d="M288 232.5C286 233.1 279.9 234.6 276 236C272.1 237.4 268.4 239.3 264.3 240.7C260.2 242.1 256.2 243.3 251.3 244.2C246.4 245.1 239.1 245.4 235 246C230.9 246.6 229.7 246.9 227 247.5C224.3 248.1 221.6 248.9 218.8 249.5C216 250.1 212.7 250.5 210 251C207.3 251.5 205 252.4 202.5 252.5C200 252.6 196.8 252.2 195 251.5C193.2 250.8 192.5 249 192 248.5L190 240L205 226L292 212Z" fill="#ff7800"/>
<path d="M286 232C282.9 233 271.8 236.9 267.6 238.2C263.4 239.5 265.1 239 261 239.8C256.9 240.6 248.7 242.2 243 243C237.3 243.8 231.2 243.9 227 244.5C222.8 245.1 220.7 246 218 246.5C215.3 247 213.3 247.2 210.6 247.5C207.9 247.8 204.4 248.1 202 248C199.6 247.9 197.3 247.7 196 247C194.7 246.3 194.3 244.5 194 244L190 240L205 226L292 212Z" fill="#ff9c00"/>
<path d="M284 231.5C281 232.3 271.7 235.2 266 236.5C260.3 237.8 254.7 238.7 250 239.5C245.3 240.3 242 241 238 241.5C234 242 229.2 242 226 242.5C222.8 243 221.5 244.2 218.8 244.5C216.1 244.8 212.8 244.6 210 244.5C207.2 244.4 204 244.5 202 244C200 243.5 198.7 241.9 198 241.5L190 240L205 226L292 212Z" fill="#ffc000"/>
<path d="M282 231C279 231.7 269.7 233.9 264 235C258.3 236.1 252.7 236.7 248 237.5C243.3 238.3 240.1 239.3 236 240C231.9 240.7 227.2 241.2 223.7 241.5C220.2 241.8 217.3 242.3 215 242C212.7 241.7 210.3 241 209.8 239.8C209.3 238.6 211.6 235.8 212 235L190 240L205 226L292 212Z" fill="#ffe400"/>
<path d="M280 230C277 230.5 267.7 232.2 262 233C256.3 233.8 250.3 234.4 246 235C241.7 235.6 239.3 236.1 236 236.5C232.7 236.9 228.7 237.6 226 237.5C223.3 237.4 221.5 236.8 220 236C218.5 235.2 217.5 233.5 217 233L190 240L205 226L292 212Z" fill="#e0ff20"/>
<path d="M278 229C275.3 229.2 267 230 262 230.5C257 231 251.7 231.7 248 232C244.3 232.3 242 232.8 240 232.5C238 232.2 236.3 231.1 236 230C235.7 228.9 237.7 226.7 238 226L190 240L205 226L292 212Z" fill="#b0ff50"/>
<path d="M277 228C275.2 228.2 269.5 228.8 266 229C262.5 229.2 258.7 229.7 256 229.5C253.3 229.3 250.7 228.9 250 228C249.3 227.1 251.7 224.7 252 224L190 240L205 226L292 212Z" fill="#80ff80"/>
<path d="M300 222C300 225.8 295 226.8 292 228C289 229.2 285 229.2 282 229C279 228.8 276 227.7 274 227C272 226.3 270 226 270 225C270 224 271.5 222.7 274 221C276.5 219.3 282 217.7 285 215C288 212.3 289.5 203.8 292 205C294.5 206.2 300 218.2 300 222Z" fill="#30f0d8"/>
<path d="M312 200C312.3 198 316.2 197 318 196C319.8 195 321.3 193.7 323 194C324.7 194.3 326.8 196 328 198C329.2 200 330 203.7 330 206C330 208.3 329.3 211 328 212C326.7 213 324 212.7 322 212C320 211.3 317.7 210 316 208C314.3 206 311.7 202 312 200Z" fill="#ff9400"/>
<path d="M303.7 174.2C304.5 172.9 310.1 171.3 312.7 171.7C315.3 172.1 317.8 174.6 319.2 176.8C320.6 179 320.9 182 321 185C321.1 188 321.2 192.5 320 195C318.8 197.5 316 198.7 314 200C312 201.3 309.7 203.4 308 203C306.3 202.6 304 199.4 303.7 197.6C303.4 195.8 305.4 194.3 306.3 192.4C307.2 190.5 308.7 188.1 308.9 185.9C309.1 183.7 308.5 181.4 307.6 179.4C306.7 177.4 302.9 175.5 303.7 174.2Z" fill="#ffdc00"/>
<path d="M290.7 170C291.7 169.1 293.7 169.6 295.9 170.3C298.1 171 301.8 172.7 303.7 174.2C305.6 175.7 306.7 177.4 307.6 179.4C308.5 181.4 309.1 183.7 308.9 185.9C308.7 188.1 307.8 191.1 306.3 192.4C304.8 193.8 302.4 193.9 300 194C297.6 194.1 294.2 192.7 292 193C289.8 193.3 287.4 197.2 287 196C286.6 194.8 288.9 189.3 289.4 185.9C289.9 182.5 289.8 178.2 290 175.5C290.2 172.8 289.7 170.9 290.7 170Z" fill="#c8f030"/>
<path d="M287 196C288.1 193.3 289.8 193.3 292 193C294.2 192.7 297.6 194.1 300 194C302.4 193.9 305.7 191.8 306.3 192.4C306.9 193 303.5 195.9 303.7 197.6C303.9 199.3 307.4 201 307.6 202.7C307.8 204.4 306.3 206.4 305 207.9C303.7 209.4 301.5 210.3 299.8 211.8C298.1 213.3 296.3 215.5 294.6 217C292.9 218.5 291.3 220 289.4 220.9C287.5 221.8 284.5 222.4 283 222.2C281.5 222 280 221.8 280.4 219.6C280.8 217.4 284.4 213.1 285.5 209.2C286.6 205.3 285.9 198.7 287 196Z" fill="#60f0a0"/>
<path d="M283 222.2C285.2 222.2 287.5 221.8 289.4 220.9C291.3 220 294.2 216.5 294.6 217C295 217.5 293.8 222.2 292 224C290.2 225.8 287 227.5 284 228C281 228.5 276.3 227.7 274 227C271.7 226.3 269.7 225 270 224C270.3 223 273.8 221.3 276 221C278.2 220.7 280.8 222.2 283 222.2Z" fill="#30f0d8"/>
<path d="M305 114C308.2 111.8 318.8 109.3 322 112C325.2 114.7 323.7 123.7 324 130C324.3 136.3 324.2 143.7 324 150C323.8 156.3 323.7 164.3 323 168C322.3 171.7 322.8 171.7 320 172C317.2 172.3 310.2 171 306 170C301.8 169 295.5 169.3 295 166C294.5 162.7 301.7 156.8 303 150C304.3 143.2 302.7 131 303 125C303.3 119 301.8 116.2 305 114Z" fill="#ff9a00"/>
</g>
<g fill="none" stroke="#000" stroke-width="6.5" stroke-linecap="round" opacity=".88"><path d="M322 187C321 188.8 318.2 194.2 316 198C313.8 201.8 311.2 206.6 309 210C306.8 213.4 305.2 215.9 303 218.5C300.8 221.1 298.5 223.5 296 225.5C293.5 227.5 291 229 288 230.5C285 232 281.3 233.4 278 234.5C274.7 235.6 271 236.3 268 237C265 237.7 261.3 238.2 260 238.5"/></g>
<path d="M300 168C301.3 166.5 305.7 165.7 308 166C310.3 166.3 312.7 167.7 314 170C315.3 172.3 316 176.8 316 180C316 183.2 315.5 187.5 314 189C312.5 190.5 308.8 190.2 307 189C305.2 187.8 304.2 184.3 303 182C301.8 179.7 300.5 177.3 300 175C299.5 172.7 298.7 169.5 300 168Z" fill="#ffe400"/><path d="M295.5 174C296.3 173.2 298.5 172.5 300 172.5C301.5 172.5 304 173.2 304.5 174C305 174.8 304.1 176.7 303 177.5C301.9 178.3 299.3 179 298 179C296.7 179 295.4 178.3 295 177.5C294.6 176.7 294.7 174.8 295.5 174Z" fill="#70f080" stroke="#000" stroke-width="1"/><path d="M314 107C315.8 105.2 317.2 104.5 319 105C320.8 105.5 323.7 107.8 325 110C326.3 112.2 327 115.2 327 118C327 120.8 325.8 124.7 325 127C324.2 129.3 325.7 131.2 322.5 132C319.3 132.8 308.9 133.3 306 132C303.1 130.7 304.6 126.7 305 124C305.4 121.3 307 118.8 308.5 116C310 113.2 312.2 108.8 314 107Z" fill="#1c0e00"/><path d="M309.5 140C311.7 137.5 320.2 138.3 322.5 140C324.8 141.7 323.2 145.8 323.5 150C323.8 154.2 324.2 160 324.5 165C324.8 170 325.6 176 325.5 180C325.4 184 324.9 188 324 189C323.1 190 321.2 187.7 320 186C318.8 184.3 317.7 181.3 316.5 179C315.3 176.7 313.9 174.3 313 172C312.1 169.7 311.6 167.8 311 165C310.4 162.2 309.8 159.2 309.5 155C309.2 150.8 307.3 142.5 309.5 140Z" fill="#1c0e00"/><path d="M295.5 159C296 157.2 297.2 155 299 154C300.8 153 304 152.7 306 153C308 153.3 310 153.8 311 156C312 158.2 312.5 163.5 312 166C311.5 168.5 309.8 170.4 308 171C306.2 171.6 303 170.5 301 169.5C299 168.5 296.9 166.8 296 165C295.1 163.2 295 160.8 295.5 159Z" fill="#1c0e00"/><path d="M322.2 101.2L325.1 100.3L329 105.1L327.1 109L324.2 106.1Z" fill="#ffb000" stroke="#000" stroke-width="1"/><path d="M313.3 142V178M316.8 146V170M319.7 142V160" stroke="#e8d800" stroke-width="1" fill="none" stroke-dasharray="5 3 9 4"/><path d="M301 170C301.5 171 303.7 173.8 304 176C304.3 178.2 302.7 180.8 303 183C303.3 185.2 305.5 188 306 189" stroke="#000" stroke-width="1.2" fill="none"/><path d="M306 168C306.5 169.2 308.7 172.7 309 175C309.3 177.3 307.7 179.7 308 182C308.3 184.3 310.5 187.8 311 189" stroke="#000" stroke-width="1.2" fill="none"/><path d="M311 170C311.4 171.3 313.2 175.3 313.5 178C313.8 180.7 313.1 184.7 313 186" stroke="#000" stroke-width="1.2" fill="none"/><path d="M304.5 122h6v3h-2v4h-4z" fill="#28e8e0"/><path d="M304.5 141h3.8v7h-3.8z" fill="#ff7a00"/><path d="M316.9 124.5l2.6 -3.9l2.6 3.9l-2.6 3.9z" fill="#ffb000"/><path d="M314.5 127.5l2 -3l2 3l-2 3z" fill="#ff9000"/><path d="M319.7 120.5l1.8 -2.7l1.8 2.7l-1.8 2.7z" fill="#ffc800"/><path d="M316.4 116l1.6 -2.4l1.6 2.4l-1.6 2.4z" fill="#ff8a00"/><path d="M320.5 112l1.5 -2.2l1.5 2.2l-1.5 2.2z" fill="#ff7a00"/><path d="M313.3 146l1.7 -2.5l1.7 2.5l-1.7 2.5z" fill="#ffe000"/><path d="M315.5 152l2 -3l2 3l-2 3z" fill="#e8f020"/><path d="M311.3 158l2.2 -3.3l2.2 3.3l-2.2 3.3z" fill="#ffe000"/><path d="M316.7 163l1.8 -2.7l1.8 2.7l-1.8 2.7z" fill="#ffd000"/><path d="M312.6 169l2.4 -3.6l2.4 3.6l-2.4 3.6z" fill="#fff000"/><path d="M306.4 163l1.6 -2.4l1.6 2.4l-1.6 2.4z" fill="#ffd000"/><path d="M301.5 161.5l2 -3l2 3l-2 3z" fill="#ffa000"/><path d="M318.7 175l1.8 -2.7l1.8 2.7l-1.8 2.7z" fill="#ffc000"/><path d="M315 181l2 -3l2 3l-2 3z" fill="#ffe000"/><path d="M319.7 143l1.3 -2l1.3 2l-1.3 2z" fill="#ff9000"/><path d="M310 174l2 -3l2 3l-2 3z" fill="#c8f030"/>
<path d="M110 40L354 40L354 54L354 57.6L349.2 57.6L349.2 61.2L344.4 61.2L344.4 64.8L339.6 64.8L339.6 68.5L334.9 68.5L334.9 72.1L330.1 72.1L330.1 75.7L325.3 75.7L325.3 79.3L320.5 79.3L320.5 82.9L315.7 82.9L315.7 86.5L310.9 86.5L310.9 90.1L306.1 90.1L306.1 93.8L301.4 93.8L301.4 97.4L296.6 97.4L296.6 101L291.8 101L291.8 104.6L287 104.6L287 109L296 109L296 105.2L311.8 105.2L311.8 114L308.5 114L308.5 119L305 119L305 124L303 124L303 130L305 130L305 148L308.4 148L308.4 155L301 155L301 158.5L297.5 158.5L297.5 162L294 162L294 166L291 166L291 186L291 209L285.5 209L285.5 215.2L279.8 215.2L279.8 221.5L274 221.5L261 222.8L248 224L235 226L223.6 227.6L215.5 229.3L210.6 232.5L202.5 238.2L196 244L191 250.4L191 257.7L186.5 257.7L186.5 265.1L182 265.1L182 272.4L177.5 272.4L177.5 279.7L173 279.7L173 283L168.7 283L168.7 286.4L164.3 286.4L164.3 289.7L159.9 289.7L159.9 293L155.6 293L155.6 299.5L150.8 299.5L150.8 306L146 306L146 325L152.4 325L152.4 333.4L146 333.4L146 356L152.4 356L152.4 374L147.5 374L147.5 378L142 378L142 432L138 432L138 451.5L138 456.9L133.6 456.9L133.6 462.3L129.3 462.3L129.3 467.7L124.9 467.7L110 468Z" fill="#fff" shape-rendering="crispEdges"/>
<g fill="none" stroke="#000" stroke-width="1.1" stroke-linejoin="round">
<path d="M124 144L132.5 147.5L147.5 150L160 151L166 149L162.5 145L170 135L181 141L189 140L194 135L205 129L217.5 124L225 119.5L240 115L252.5 114.5L265 119L277.5 125L285 132.5L289 140L290.5 148L289.4 154.4L283.6 155.7L286 161L292 164L290.7 173L289 186L286 196L285 209L282.5 213L275 220L250 223L230 225L212.5 229L200 234L192.5 240"/>
<path d="M285.5 54L279.7 78.5L281 97.3L289.4 97.3L297 90L315 79L334.8 64L347.7 55"/>
<path d="M291.4 54L291.4 69.4L297 77L299 85.6L315 77.8L310 70.7L312.7 64L319 61L324.4 63L325.7 56L329.6 59L330 54"/>
<path d="M353 54L325.7 77L312.7 85L297 92.7L286.8 104.4L279.7 109L284 114.8L289.4 111L296 114.8L301 112L301.5 126L298 149L296 153"/>
<path d="M182.5 251L167.5 259L160 270L159 281L170 270L184 257.5L182.5 251"/>
<path d="M190 190L202.5 192.5L210 197.5L202.5 202.5L200 212.5L205 220L215 220L212.5 227.5L192.5 234L195 241L191 249L185 242.5L166 249L170 235L185 229L186 220L182.5 212.5L176 205L179 197.5L190 190"/>
<path d="M182.5 262.5L157.5 295L145 305L141 312.5L147.5 327.5L144 335L146 345L147.5 365L141 387.5L135 402.5L136 425L139 436L137.5 445L131 455L124 462.5"/>
<path d="M124 402.5L135 401"/>
</g>
<g fill="none" stroke="#000" stroke-width="1.4" stroke-linejoin="round" stroke-linecap="round">
<path d="M322 147C323.8 146.6 329.3 144.8 333 144.4C336.7 144 341 144.3 344 144.4C347 144.5 348.8 145 351 145C353.2 145 354.4 145.2 357.4 144.4C360.4 143.6 364.2 141.7 368.8 140.3C373.4 138.9 379.6 136.8 385 136C390.4 135.2 395.6 135.6 401 135.4C406.4 135.2 414.3 135.5 417.5 134.6C420.7 133.7 420.4 131.7 420 129.8C419.6 127.9 415.2 126 415.4 123C415.6 120 419.1 115.8 421 111.8C422.9 107.8 426.7 103.7 426.7 98.8C426.7 93.9 423 88 421 82.5C419 77 415.8 70.8 414.5 66C413.2 61.2 413.2 56 413 54"/>
<path d="M320 137C321.3 136.5 325.3 134.5 328 133.8C330.7 133.1 333 132.9 336 133C339 133.1 342.3 134.5 346 134.5C349.7 134.5 354.5 133.9 358 133C361.5 132.1 364.4 130.3 367 129C369.6 127.7 372.4 126.2 373.6 124.9C374.9 123.6 372.6 122.2 374.5 121C376.4 119.8 381.6 118.5 385 117.5C388.4 116.5 390.7 116.5 395 115C399.3 113.5 407.1 110.9 411 108.5C414.9 106.1 417.8 103.4 418.6 100.4C419.4 97.4 417.3 94.9 416 90.6C414.7 86.3 412.6 80.5 411 74.4C409.4 68.3 407.2 57.4 406.4 54"/>
<path d="M343 65.4C344.5 64.9 348.8 63.3 352 62.5C355.2 61.7 358 60.4 362.5 60.5C367 60.6 373.6 61.9 379 63C384.4 64.1 391.4 65.7 395 67C398.6 68.3 399.6 71.5 400.7 71C401.8 70.5 402.2 66.8 401.5 64C400.8 61.2 397.4 55.7 396.6 54"/>
<path d="M447.5 54C445.8 55.8 438.1 61.1 437 65C435.9 68.9 439.5 73.3 440.6 77.6C441.7 81.9 442.2 85.2 443.8 90.6C445.4 96 446.9 103.8 450 110C453.1 116.2 456.2 123.8 462.5 127.5C468.8 131.2 479.2 131.1 487.5 132.5C495.8 133.9 505 133.9 512.5 136C520 138.1 527.1 143.4 532.5 145C537.9 146.6 540.4 147.2 545 145.5C549.6 143.8 555.4 135.9 560 135C564.6 134.1 569.2 137.1 572.5 140C575.8 142.9 577.6 149.5 580 152.5C582.4 155.5 583.7 158.4 587 158C590.3 157.6 595.8 154.2 600 150C604.2 145.8 608.3 138.8 612.5 132.5C616.7 126.2 621.2 117.9 625 112.5C628.8 107.1 630.8 101.2 635 100C639.2 98.8 645.8 101.7 650 105C654.2 108.3 657.1 114.2 660 120C662.9 125.8 664.8 135.4 667.5 140C670.2 144.6 674.6 146.2 676 147.5"/>
<path d="M676 195C672.9 195.2 663.5 195.2 657.5 196C651.5 196.8 645.4 199 640 199.5C634.6 200 630.8 199.6 625 199C619.2 198.4 610.8 196.5 605 196C599.2 195.5 592.8 195.7 590 196C587.2 196.3 587.3 196.1 588 198C588.7 199.9 592.4 204.5 594 207.5C595.6 210.5 594.4 214.1 597.5 216C600.6 217.9 608.3 217.7 612.5 219C616.7 220.3 618.3 222.8 622.5 224C626.7 225.2 632.1 226.5 637.5 226C642.9 225.5 650 223.2 655 221C660 218.8 664 214.8 667.5 212.5C671 210.2 674.6 208.3 676 207.5"/>
<path d="M322 160C323.2 159.8 326.7 158.8 329 158.5C331.3 158.2 332.7 157.1 336 158C339.3 158.9 344.9 161.9 349 164C353.1 166.1 357.3 168.8 360.6 170.4C363.9 172 366.6 173.6 368.8 173.6C371 173.6 372.4 172.3 373.6 170.4C374.8 168.5 376 164.2 376 162C376 159.8 374.8 159 373.6 157.4C372.4 155.8 368.8 153.9 368.8 152.5C368.8 151.1 370.9 149.9 373.6 149C376.3 148.1 380.9 147.2 385 146.8C389.1 146.4 393.7 146.4 398 146.8C402.3 147.2 406.7 148.1 411 149C415.3 149.9 420.2 151 424 152.5C427.8 154 429.5 156.7 433.8 158C438.1 159.3 444 160.7 450 160.6C456 160.5 463.3 159.3 470 157.5C476.7 155.7 484.5 151.9 490 150C495.5 148.1 498.8 146.4 503 146C507.2 145.6 510.5 145.6 515 147.5C519.5 149.4 525 152.9 530 157.5C535 162.1 540.4 169.9 545 175C549.6 180.1 553.8 183.8 557.5 188C561.2 192.2 564.6 195.9 567.5 200C570.4 204.1 570.4 209 575 212.5C579.6 216 588.8 219.3 595 221C601.2 222.7 607.5 221.2 612.5 222.5C617.5 223.8 620 227.6 625 229C630 230.4 636.7 231.2 642.5 231C648.3 230.8 654.4 228.5 660 227.5C665.6 226.5 673.3 225.4 676 225"/>
<path d="M299 234C299.6 232.7 301.6 228.1 302.5 226C303.4 223.9 303.9 221.8 304.6 221.2C305.4 220.6 306.4 221.3 307 222.5C307.6 223.7 307.5 226.1 308.4 228.2C309.3 230.3 310.7 232.6 312.3 235C313.9 237.4 315.9 240.3 318.2 242.7C320.5 245.1 322.8 247.4 325.9 249.5C329 251.6 333.2 253.8 336.6 255.3C340 256.8 342.4 257.8 346 258.7C349.6 259.6 353.2 260.4 358 261C362.8 261.6 370.2 262.1 375 262C379.8 261.9 384.2 261.2 387 260.5C389.8 259.8 390.3 259.2 392 258C393.7 256.8 395.5 255.2 397 253C398.5 250.8 400.2 248 401 245C401.8 242 402 237.5 402 235C402 232.5 401.8 232.5 401 230C400.2 227.5 399 222.7 397 220C395 217.3 391.5 215.3 389 214C386.5 212.7 384.2 212 382 212C379.8 212 378.5 212.8 376 214C373.5 215.2 369.4 217 367 219C364.6 221 362.6 223.8 361.5 226C360.4 228.2 360.6 231.6 360.2 232.3C359.8 233 359.2 233.6 359 230C358.8 226.4 359.2 217.3 359 211C358.8 204.7 355.8 194.7 357.5 192C359.2 189.3 364.4 193.7 369 195C373.6 196.3 379.8 198.8 385 200C390.2 201.2 395.4 201.7 400 202.5C404.6 203.3 408.3 203.9 412.5 205C416.7 206.1 421 207.4 425 209C429 210.6 435.6 212.6 436.5 214.5C437.4 216.4 432.2 218.2 430.5 220.6C428.8 223 426.7 226.3 426 229C425.3 231.7 425.2 235.6 426.5 237C427.8 238.4 431.4 238.1 434 237.7C436.6 237.3 439.8 234.3 442 234.4C444.2 234.5 445.7 237.6 447 238.5C448.3 239.4 447.8 241 450 240C452.2 239 456.7 234.6 460 232.5C463.3 230.4 466.5 228.7 470 227.5C473.5 226.3 476 225.8 481 225.5C486 225.2 492.7 225.2 500 226C507.3 226.8 518.5 228.3 525 230C531.5 231.7 539 234.5 539 236C539 237.5 531.5 237.5 525 239C518.5 240.5 508.3 242.8 500 245C491.7 247.2 483.3 249.2 475 252.5C466.7 255.8 456.2 261.2 450 265C443.8 268.8 441.7 272.5 437.5 275C433.3 277.5 429.2 277.9 425 280C420.8 282.1 415.8 285.7 412.5 287.5C409.2 289.3 408.4 289.4 405 291C401.6 292.6 395.8 296.3 392 297C388.2 297.7 385.5 296.3 382 295C378.5 293.7 372.2 290.7 371 289C369.8 287.3 372.7 286.7 375 285C377.3 283.3 381.2 280.3 385 279C388.8 277.7 395.4 277.8 398 277C400.6 276.2 400.3 275 400.5 274C400.7 273 400.8 271.9 399 271C397.2 270.1 393.2 269.3 390 268.5C386.8 267.7 383.2 266.7 380 266C376.8 265.3 374.7 264.7 371 264.5C367.3 264.3 361.5 264.4 358 265C354.5 265.6 353 267.2 350 268C347 268.8 342.8 269 340 270C337.2 271 335.2 272.3 333 274C330.8 275.7 328.8 277 327 280C325.2 283 323.3 287 322 292C320.7 297 319.3 304.5 319 310C318.7 315.5 319.1 320 320 325C320.9 330 323 334.3 324.6 340C326.2 345.7 328.6 353.6 329.4 359.4C330.2 365.2 328.4 369.2 329.4 375C330.4 380.8 332.6 387.9 335.2 394.4C337.8 400.9 341.9 408.3 345 413.8C348.1 419.3 352.1 422.2 353.7 427.4C355.3 432.6 353.4 441.5 354.7 444.9C356 448.3 359.2 446.5 361.5 447.8C363.8 449.1 366.7 453.7 368.3 452.6C369.9 451.5 371.1 444.9 371.2 441C371.3 437.1 370 433.2 369.2 429.3C368.4 425.4 367.6 421.9 366.3 417.7C365 413.5 362.9 408.5 361.5 404C360.1 399.5 358.4 394.7 357.6 390.5C356.8 386.3 355.8 383 356.6 378.8C357.4 374.6 360.1 369.2 362.4 365.2C364.7 361.2 369.5 354.6 370.2 354.6C370.9 354.6 367.4 361.5 366.3 365.2C365.2 368.9 363.6 373 363.4 376.9C363.2 380.8 364.3 384.6 365.3 388.5C366.3 392.4 367.8 396.6 369.2 400.2C370.6 403.8 371.9 406.3 374 409.9C376.1 413.5 379.2 418.7 381.8 421.6C384.4 424.5 387.7 427.4 389.6 427.4C391.6 427.4 392.5 425.5 393.5 421.6C394.5 417.7 394.8 407.9 395.4 404C396 400.1 396.1 399.6 397.4 398.3C398.7 397 400.6 396.1 403 396C405.4 395.9 408.3 396 412 397.5C415.7 399 421.2 401.7 425 405C428.8 408.3 431.7 412.9 435 417.5C438.3 422.1 442.5 428.8 445 432.5C447.5 436.2 447.1 436.7 450 440C452.9 443.3 458.3 448.3 462.5 452.5C466.7 456.7 471.7 461.8 475 465C478.3 468.2 480.4 470.2 482.5 472C484.6 473.8 486.1 475 487.5 476C488.9 477 490.4 477.7 491 478"/>
<path d="M491 478C490.4 477.3 488.9 475.8 487.5 474C486.1 472.2 484.6 470.7 482.5 467.5C480.4 464.3 477.9 459.6 475 455C472.1 450.4 467.9 444.2 465 440C462.1 435.8 459 432.5 457.5 430C456 427.5 455.6 426.5 456 425C456.4 423.5 456.8 420.8 460 421C463.2 421.2 470.4 425.5 475 426C479.6 426.5 482.5 424 487.5 424C492.5 424 498.8 424.8 505 426C511.2 427.2 518.3 429.3 525 431C531.7 432.7 539.2 434.6 545 436C550.8 437.4 555 438.7 560 439.5C565 440.3 568.3 440.2 575 441C581.7 441.8 591.7 443.8 600 444C608.3 444.2 616.7 443.2 625 442.5C633.3 441.8 641.5 440 650 440C658.5 440 671.7 442.1 676 442.5"/>
<path d="M299 234C297 235.2 291 238.3 287 241C283 243.7 278.3 247.3 275 250C271.7 252.7 268.7 254.2 267 257C265.3 259.8 264.8 263.2 265 267C265.2 270.8 267.8 276.2 268 280C268.2 283.8 267.3 286.7 266 290C264.7 293.3 262 296.7 260 300C258 303.3 255.2 307 254 310C252.8 313 252.2 315.8 253 318C253.8 320.2 256.8 323.7 259 323C261.2 322.3 264.2 316.3 266 314C267.8 311.7 268 310 270 309C272 308 275.3 307.5 278 308C280.7 308.5 284 310 286 312C288 314 289.7 317.3 290 320C290.3 322.7 289.3 325.7 288 328C286.7 330.3 285.7 331.8 282 334C278.3 336.2 271.3 339.2 266 341C260.7 342.8 255.2 344.8 250 345C244.8 345.2 240.5 343.5 235 342C229.5 340.5 222 337.3 217 336C212 334.7 210 334 205 334C200 334 192 334.7 187 336C182 337.3 178.7 339.3 175 342C171.3 344.7 167.7 348.2 165 352C162.3 355.8 160.8 360.3 159 365C157.2 369.7 155.7 376.3 154 380C152.3 383.7 150.1 384.2 149 387C147.9 389.8 147.3 393.8 147.5 397C147.7 400.2 149.6 404.5 150 406"/>
<path d="M150 406C151.2 405.3 154.5 404.3 157 402C159.5 399.7 162 395.2 165 392C168 388.8 171.8 386 175 383C178.2 380 181.7 376.7 184 374C186.3 371.3 187.2 368.7 189 367C190.8 365.3 193 365.5 195 364C197 362.5 200.7 359.5 201 358C201.3 356.5 198.8 355 197 355C195.2 355 191.8 356.3 190 358C188.2 359.7 187.3 362.7 186 365C184.7 367.3 183.8 368.7 182 372C180.2 375.3 176.8 380.8 175 385C173.2 389.2 172.3 392 171 397C169.7 402 168 409.5 167 415C166 420.5 165.5 425.5 165 430C164.5 434.5 165.3 437.8 164 442C162.7 446.2 160.2 451.7 157 455C153.8 458.3 149.1 459.9 145 462C140.9 464.1 136 465.8 132.5 467.5C129 469.2 125.4 471.7 124 472.5"/>
<path d="M294 233C295 232 298.2 229.1 300 227C301.8 224.9 303.8 221.9 305 220.5C306.2 219.1 306.5 218.3 307.5 218.4C308.5 218.5 309.9 219.4 310.9 220.9C311.9 222.4 312.1 225 313.3 227.2C314.5 229.4 316.2 231.7 318.2 234C320.1 236.3 322.4 238.7 325 240.8C327.6 242.9 330.5 245 333.7 246.6C336.9 248.2 341.3 249.5 344.4 250.5C347.4 251.5 348.7 252.1 352 252.8C355.3 253.5 360 254.1 364 254.5C368 254.9 372.2 255.6 376 255.5C379.8 255.4 384.2 254.9 387 254C389.8 253.1 391.5 251.5 393 250C394.5 248.5 395.4 247.5 396 245C396.6 242.5 396.7 238 396.5 235C396.3 232 396.1 228.8 395 227C393.9 225.2 391.4 224 390 224C388.6 224 387.2 225.4 386.7 227C386.1 228.6 387.5 231.8 386.7 233.7C385.9 235.6 384.2 237.3 382 238.5C379.8 239.7 377 240.5 373.7 241C370.4 241.5 364.9 241.9 362 241.5C359.1 241.1 356.8 240.4 356 238.5C355.2 236.6 357 233.4 357.3 230C357.6 226.6 357.9 222.2 358 218C358.1 213.8 358.2 209.2 357.8 205C357.4 200.8 356.8 196.6 355.5 193C354.2 189.4 352.2 186.3 350 183.5C347.8 180.7 345 178.2 342 176C339 173.8 335 171.7 332 170C329 168.3 325.3 166.7 324 166"/>
<path d="M293.6 238.2C292 238.9 286.8 240.8 283.8 242.3C280.8 243.8 278.4 245.7 275.7 247C273 248.3 270.1 249 267.6 250.4C265.2 251.8 263.6 253.4 261 255.3C258.4 257.2 254.8 259.9 252 262C249.2 264.1 247 266 244 268C241 270 237.3 272.3 234 274C230.7 275.7 226.7 276.3 224 278C221.3 279.7 219.3 281.5 218 284C216.7 286.5 217 290.5 216 293C215 295.5 214.7 298 212 299C209.3 300 202.2 300 200 299C197.8 298 199 294.8 199 293C199 291.2 198.8 289.7 200 288C201.2 286.3 203.8 283.3 206 283C208.2 282.7 211.3 286.2 213 286C214.7 285.8 215.7 283.7 216 282C216.3 280.3 216 277.5 215 276C214 274.5 212.5 272.8 210 273C207.5 273.2 204 275.5 200 277C196 278.5 191 279.8 186 282C181 284.2 175 287.5 170 290C165 292.5 158.3 295.8 156 297"/>
<path d="M199 291C197.5 291.2 194 290.8 190 292C186 293.2 179.7 295.3 175 298C170.3 300.7 164.5 305.3 162 308C159.5 310.7 159.7 312.3 160 314C160.3 315.7 164 316 164 318C164 320 161.8 323.5 160 326C158.2 328.5 154.2 331.8 153 333"/>
<path d="M290 234C289 234.3 286.5 235 283.8 235.8C281.1 236.6 277 237.6 274 239C271 240.4 268.2 242.4 266 244C263.8 245.6 262.9 247.2 261 248.8C259.1 250.4 256.9 252.4 254.5 253.6C252.1 254.8 249.2 254.8 246.4 256C243.7 257.2 240.4 259.5 238 261C235.6 262.5 234 264.3 231.8 265C229.6 265.7 227.5 265.4 225 265C222.5 264.6 219.7 263.1 217 262.6C214.3 262.1 211.4 262 209 262C206.6 262 204.7 262 202.5 262.6C200.3 263.2 197.9 264.7 196 265.5C194.1 266.3 192.8 267.9 191 267.5C189.2 267.1 186.3 264.1 185.4 263.4"/>
<path d="M676 426C673.8 426.2 666.4 426.4 662.5 427.5C658.6 428.6 652.9 431.4 652.5 432.5C652.1 433.6 656.1 433.7 660 434C663.9 434.3 673.3 434.4 676 434.5"/>
<path d="M520 562.5C519.6 560.2 518.2 552.6 517.5 549C516.8 545.4 514.3 541.5 516 541C517.7 540.5 523.5 544.5 527.5 546C531.5 547.5 536.2 549.8 540 550C543.8 550.2 547.1 549.2 550 547.5C552.9 545.8 556 543.8 557.5 540C559 536.2 559.8 530 559 525C558.2 520 555.7 514.6 552.5 510C549.3 505.4 545 501.7 540 497.5C535 493.3 527.1 489.2 522.5 485C517.9 480.8 514.6 475.8 512.5 472.5C510.4 469.2 509.9 466.9 510 465C510.1 463.1 511.3 462.2 513 461C514.7 459.8 516.3 458.3 520 457.5C523.7 456.7 530 455.8 535 456C540 456.2 543.3 458.2 550 459C556.7 459.8 566.7 460.8 575 460.5C583.3 460.2 592.5 457.8 600 457C607.5 456.2 611.7 455.7 620 456C628.3 456.3 640.7 457.6 650 459C659.3 460.4 671.7 463.6 676 464.5"/>
<path d="M337.5 562.5C339.6 562.2 343.8 561.6 350 561C356.2 560.4 365.8 559.8 375 559C384.2 558.2 397.5 557.1 405 556C412.5 554.9 417.3 554.3 420 552.5C422.7 550.7 422.7 547.9 421 545C419.3 542.1 413.5 538.8 410 535C406.5 531.2 402.5 526.8 400 522.5C397.5 518.2 397.5 512.6 395 509C392.5 505.4 390.4 502.7 385 501C379.6 499.3 371.2 499.6 362.5 499C353.8 498.4 339.9 498 332.5 497.5C325.1 497 323.6 496 318 496C312.4 496 304.5 496.2 299 497.5C293.5 498.8 289.8 501.5 285 504C280.2 506.5 274.3 509.8 270 512.5C265.7 515.2 258.2 519.2 259 520.5C259.8 521.8 270.2 520.2 275 520C279.8 519.8 284.8 519 287.5 519.5C290.2 520 291.4 520.7 291 523C290.6 525.3 288.5 530.2 285 533.5C281.5 536.8 273.8 539.8 270 542.5C266.2 545.2 264.2 547.6 262.5 550C260.8 552.4 259.9 554.9 260 557C260.1 559.1 262.5 561.6 263 562.5"/>
<path d="M276 562.5C277.9 560.8 284.3 555.8 287.5 552.5C290.7 549.2 293.6 546.2 295 542.5C296.4 538.8 294.8 533.8 296 530C297.2 526.2 299.3 523.2 302.5 520C305.7 516.8 310.4 513.3 315 511C319.6 508.7 325.3 507 330 506C334.7 505 338.8 505.2 343 505C347.2 504.8 350.9 504.3 355 505C359.1 505.7 363.8 507.2 367.5 509C371.2 510.8 375.6 513.5 377.5 516C379.4 518.5 379.8 521.7 379 524C378.2 526.3 376.1 528.3 372.5 530C368.9 531.7 363.3 533.2 357.5 534C351.7 534.8 343.3 534 337.5 535C331.7 536 327.1 537.9 322.5 540C317.9 542.1 313.1 544.6 310 547.5C306.9 550.4 305.3 555 304 557.5C302.7 560 302.3 561.7 302 562.5"/>
<path d="M216 562.5C215.4 559.6 214.3 550.4 212.5 545C210.7 539.6 207.9 534.8 205 530C202.1 525.2 198.3 519.2 195 516C191.7 512.8 188.3 511.7 185 511C181.7 510.3 174.6 510.5 175 512C175.4 513.5 183.8 516.6 187.5 520C191.2 523.4 194.6 527.9 197.5 532.5C200.4 537.1 203.1 542.5 205 547.5C206.9 552.5 208.3 560 209 562.5"/>
<path d="M346 104C346.5 101.3 347.5 97.4 349 95C350.5 92.6 353 90.6 355 89.5C357 88.4 359.5 87.9 361 88.5C362.5 89.1 363.2 90.4 364 93C364.8 95.6 366.2 100.8 366 104C365.8 107.2 364.5 109.7 363 112C361.5 114.3 358.7 116.4 357 118C355.3 119.6 354.4 121.5 353 121.5C351.6 121.5 349.7 119.8 348.5 118C347.3 116.2 346.4 113.3 346 111C345.6 108.7 345.5 106.7 346 104Z"/>
<path d="M329.5 84.3C330.1 83.1 333 82 334.8 81.3C336.6 80.6 339.1 79.2 340.2 79.9C341.2 80.6 341 83.1 341.1 85.7C341.2 88.3 341.3 92.2 340.7 95.4C340.1 98.6 338.8 102.2 337.7 105.1C336.6 108 335.3 111.1 333.9 112.9C332.5 114.7 330.3 115.8 329.5 115.8C328.7 115.8 328.6 114.7 329 112.9C329.4 111.1 331.3 108 331.9 105.1C332.5 102.2 332.5 98.2 332.4 95.4C332.3 92.7 331.9 90.4 331.4 88.6C330.9 86.8 328.9 85.5 329.5 84.3Z"/>
<path d="M404 173C403.8 171.7 407.7 172 411 172C414.3 172 420.5 172.6 424 173C427.5 173.4 427.7 174.8 432 174.5C436.3 174.2 442.8 171.9 450 171C457.2 170.1 466.7 169.6 475 169C483.3 168.4 492.5 168.3 500 167.5C507.5 166.7 515 163.2 520 164C525 164.8 528.8 169 530 172C531.2 175 530 178.8 527 182C524 185.2 516.5 188.8 512 191C507.5 193.2 504.2 195 500 195C495.8 195 491.2 192.7 487 191C482.8 189.3 479.2 186.8 475 185C470.8 183.2 468.3 181 462 180C455.7 179 442.8 179.1 437 179C431.2 178.9 429.8 178.8 427 179.3C424.2 179.8 422.5 181.9 420 182C417.5 182.1 414.7 181.5 412 180C409.3 178.5 404.2 174.3 404 173Z"/>
<path d="M448 279C449.7 277.2 454.7 273 460 270C465.3 267 473.3 263.5 480 261C486.7 258.5 492.3 256.8 500 255C507.7 253.2 517.8 250.8 526 250C534.2 249.2 542.7 249.5 549 250C555.3 250.5 559.5 251.7 564 253C568.5 254.3 574.7 256.3 576 258C577.3 259.7 574.7 260.7 572 263C569.3 265.3 564 269.2 560 272C556 274.8 553 277 548 280C543 283 535.3 286.8 530 290C524.7 293.2 521 296.2 516 299C511 301.8 503.3 306.2 500 307C496.7 307.8 497.2 306.2 496 304C494.8 301.8 493.5 297 493 294C492.5 291 491.8 288.3 493 286C494.2 283.7 497.2 281.3 500 280C502.8 278.7 506.7 278.2 510 278C513.3 277.8 517.3 278.2 520 279C522.7 279.8 523.3 282.7 526 283C528.7 283.3 532.7 282.3 536 281C539.3 279.7 543.8 277.5 546 275C548.2 272.5 549.2 268.2 549 266C548.8 263.8 546.8 262.3 545 261.5C543.2 260.7 541.2 261.1 538 261C534.8 260.9 532.3 260.5 526 261C519.7 261.5 507.7 262.7 500 264C492.3 265.3 486.7 266.8 480 269C473.3 271.2 465 275 460 277C455 279 452 280.7 450 281C448 281.3 446.3 280.8 448 279Z"/>
<path d="M561 292C560.3 291.6 571.8 291.4 576 291C580.2 290.6 582.7 289.4 586 289.6C589.3 289.8 594.2 291.1 596 292C597.8 292.9 597.7 294.3 597 295C596.3 295.7 594.8 296.6 592 296.4C589.2 296.2 585.2 294.3 580 293.6C574.8 292.9 561.7 292.4 561 292Z"/>
<path d="M389 369C387.3 368 388.2 364 390 360C391.8 356 396.3 349.8 400 345C403.7 340.2 408.2 334.4 412 331C415.8 327.6 420.2 324.8 423 324.5C425.8 324.2 428.5 325.6 429 329C429.5 332.4 427 340.5 426 345C425 349.5 424.8 353 423 356C421.2 359 418.8 361.3 415 363C411.2 364.7 404.3 365 400 366C395.7 367 390.7 370 389 369Z"/>
<path d="M441 440C441.2 438.8 442.7 440 445 442.5C447.3 445 452.1 450.8 455 455C457.9 459.2 461 464.8 462.5 467.5C464 470.2 464.6 470.2 464 471C463.4 471.8 461.3 473.9 459 472.5C456.7 471.1 452.5 466.2 450 462.5C447.5 458.8 445.5 453.8 444 450C442.5 446.2 440.8 441.2 441 440Z"/>
<path d="M407.5 410C409 408.2 412.5 408 415 409C417.5 410 419.8 413.8 422.5 416C425.2 418.2 430.6 421.2 431 422.5C431.4 423.8 426.7 422.8 425 424C423.3 425.2 422.7 428.2 421 430C419.3 431.8 416.8 434.6 415 435C413.2 435.4 411.5 435 410 432.5C408.5 430 406.4 423.8 406 420C405.6 416.2 406 411.8 407.5 410Z"/>
<path d="M593.8 54C592.7 56.7 589.8 65.7 587.5 70C585.2 74.3 582.9 78.8 580 80C577.1 81.2 575.2 77.9 570 77.5C564.8 77.1 554.8 75.8 549 77.5C543.2 79.2 539 84.2 535 87.5C531 90.8 527.1 94.2 525 97.5C522.9 100.8 522.1 104.6 522.5 107.5C522.9 110.4 522.9 113.1 527.5 115C532.1 116.9 542.1 118.2 550 119C557.9 119.8 568.8 120.2 575 120C581.2 119.8 583.8 119.2 587.5 117.5C591.2 115.8 595.8 113.3 597.5 110C599.2 106.7 596.5 102.1 597.5 97.5C598.5 92.9 602.7 87.9 603.8 82.5C604.8 77.1 604 69.8 603.8 65C603.5 60.2 602.7 55.8 602.5 54"/>
<path d="M676 345C673.3 346.2 665.2 350 660 352.5C654.8 355 650.8 357.5 645 360C639.2 362.5 630.4 365.4 625 367.5C619.6 369.6 614.2 370.4 612.5 372.5C610.8 374.6 614.2 377.1 615 380C615.8 382.9 617.7 387.3 617.5 390C617.3 392.7 615.7 394.8 614 396C612.3 397.2 609.8 398.1 607.5 397.5C605.2 396.9 602.9 394.2 600 392.5C597.1 390.8 594.2 389.3 590 387C585.8 384.7 579.6 382 575 378.5C570.4 375 565.7 368.4 562.5 366C559.3 363.6 558.1 363.3 556 364C553.9 364.7 551.8 367.3 550 370C548.2 372.7 546.2 376.8 545 380C543.8 383.2 544.2 387 542.5 389C540.8 391 540 391.7 535 392C530 392.3 519.2 391.3 512.5 391C505.8 390.7 500.2 390.1 495 390C489.8 389.9 485.2 390.7 481 390.5C476.8 390.3 473.1 390.3 470 389C466.9 387.7 465.8 385 462.5 382.5C459.2 380 453.1 375.4 450 374C446.9 372.6 445.2 372.6 444 374C442.8 375.4 441.9 379.8 442.5 382.5C443.1 385.2 445 387.5 447.5 390C450 392.5 452.9 395 457.5 397.5C462.1 400 467.9 403.1 475 405C482.1 406.9 492.5 407.8 500 409C507.5 410.2 513.8 410.7 520 412.5C526.2 414.3 532.5 417.8 537.5 420C542.5 422.2 545.9 424.6 550 426C554.1 427.4 557.8 428.2 562 428.5C566.2 428.8 570.8 428.2 575 427.5C579.2 426.8 583.3 425.4 587.5 424C591.7 422.6 595.8 420.5 600 419C604.2 417.5 607.1 416.5 612.5 415C617.9 413.5 627.8 412.1 632.5 410C637.2 407.9 639.8 405.4 641 402.5C642.2 399.6 640 395 640 392.5C640 390 638.5 389.2 641 387.5C643.5 385.8 649.2 384.2 655 382.5C660.8 380.8 672.5 378.3 676 377.5"/>
<path d="M305.2 89.1C306.1 89 308.9 88.4 310.6 88.6C312.3 88.8 314.1 89.3 315.4 90.1C316.7 90.9 317 92.7 318.3 93.5C319.6 94.3 321.7 94.1 323.2 94.9C324.7 95.7 326.1 97.1 327.1 98.3C328.2 99.5 329 101.1 329.5 102.2C330 103.3 330.2 104 330 105.1C329.8 106.2 328.6 108.2 328 109C327.4 109.8 326.4 109.8 326.1 110"/>
<path d="M312 109C312.4 109.2 313.6 110.7 314.4 110C315.2 109.3 316.2 106.8 316.9 105.1C317.6 103.4 318.2 99.9 318.8 99.8C319.4 99.7 320 102.5 320.3 104.2C320.6 105.9 320.9 108.2 320.8 110C320.7 111.8 319.6 114.6 319.8 114.8C320 115 321.3 111.8 322.2 111C323.1 110.2 324.5 110.5 325.1 110C325.8 109.5 325.9 108.3 326.1 108"/>
<path d="M319.3 82.3C320.4 82 324.7 81 326.1 80.4C327.6 79.8 327.8 79.3 328 78.9C328.2 78.5 327.2 78.1 327.1 77.9"/>
<path d="M423 303.5 L427 304.5"/>
<path d="M287 249 L293 249.5"/>
<path d="M250 358.3 L255 358.3"/>
<path d="M493 57.5 L499 57"/>
<path d="M566 54C566.7 54.6 568.5 57.3 570 57.5C571.5 57.7 574 55.6 575 55C576 54.4 575.8 54.2 576 54"/>
<path d="M640 54C641 54.7 644 57.2 646 58C648 58.8 650.2 59.3 652 59C653.8 58.7 655.8 56.8 657 56C658.2 55.2 658.7 54.3 659 54"/>
<path d="M676 107C675.6 108.8 674 114.2 673.5 118C673 121.8 672.8 126 673 130C673.2 134 674 139.2 674.5 142C675 144.8 675.8 146.2 676 147"/>
<path d="M323 169C324.7 169.7 329.5 171.7 333 173C336.5 174.3 341 175.2 344 177C347 178.8 349.2 181.2 351 184C352.8 186.8 354.2 190.3 355 194C355.8 197.7 355.8 201.8 355.8 206C355.9 210.2 355.9 215.3 355.3 219C354.7 222.7 353.2 225.9 352 228C350.8 230.1 349.6 230.2 348.3 231.5C347 232.8 345.9 234.4 344 235.5C342.1 236.6 339.1 237.9 336.6 237.9C334.1 237.9 331.2 236.7 328.8 235.4C326.4 234.1 323.9 231.9 322 230.1C320.1 228.2 318.5 226.2 317.2 224.3C315.9 222.4 315.6 219.9 314.3 218.4C313 216.9 310.2 216 309.4 215.5"/>
<path d="M322.5 173C324.1 173.6 328.8 175.3 332 176.5C335.2 177.7 339.2 178.4 342 180C344.8 181.6 347.1 183.5 349 186C350.9 188.5 352.4 191.7 353.3 195C354.2 198.3 354.1 202.2 354.2 206C354.3 209.8 354.4 214.7 353.8 218C353.2 221.3 351.8 224.2 350.5 226C349.2 227.8 348 228.2 346.3 229.1C344.6 229.9 342.8 230.9 340.5 231.1C338.2 231.3 335.1 231.1 332.7 230.1C330.3 229.1 327.8 227.1 325.9 225.2C324 223.3 322.4 220.7 321.1 218.9C319.8 217.1 319.9 215.7 318.2 214.6C316.5 213.5 312.1 212.5 310.9 212.1"/>
<path d="M322 177C323.5 177.5 328 179 331 180C334 181 337.3 181.7 340 183C342.7 184.3 345.1 185.8 347 188C348.9 190.2 350.6 193 351.5 196C352.4 199 352.5 202.5 352.6 206C352.7 209.5 352.8 214 352.3 217C351.8 220 350.4 222.5 349.5 224C348.6 225.5 348 225.5 346.8 226.2C345.6 226.9 344.3 228 342.4 228.2C340.5 228.4 337.9 228.2 335.6 227.2C333.3 226.2 330.8 224.1 328.8 222.3C326.8 220.5 324.6 218.1 323.5 216.5C322.4 214.9 322.9 213.8 322 212.6C321.1 211.3 318.7 209.6 318 209"/>
<path d="M322 181C323.3 181.4 327.3 182.7 330 183.5C332.7 184.3 335.5 184.9 338 186C340.5 187.1 343.1 188.2 345 190C346.9 191.8 348.5 194.3 349.5 197C350.5 199.7 350.8 202.8 351 206C351.2 209.2 351.4 213.3 351 216C350.6 218.7 349.4 220.8 348.3 222.3C347.2 223.8 346 224.3 344.4 224.8C342.8 225.3 340.4 225.8 338.5 225.2C336.6 224.6 334 223.2 332.7 221.4C331.4 219.6 331.8 216.6 330.8 214.6C329.8 212.6 328.4 211.5 326.9 209.7C325.4 207.9 322.8 204.9 322 204"/>
<path d="M290 233C288.3 233.6 283.3 235.3 280 236.5C276.7 237.7 273 238.8 270 240C267 241.2 264.7 242.8 262 244C259.3 245.2 256.7 246.5 254 247.5C251.3 248.5 248.7 249.1 246 250C243.3 250.9 240.7 252.2 238 253C235.3 253.8 232.7 254.6 230 255C227.3 255.4 224.7 255.5 222 255.5C219.3 255.5 216.7 254.9 214 255C211.3 255.1 208.7 255.5 206 256C203.3 256.5 200.3 257.6 198 258C195.7 258.4 193.7 258.9 192 258.5C190.3 258.1 188.7 256 188 255.5"/>
<path d="M288 232.5C286 233.1 279.9 234.6 276 236C272.1 237.4 268.4 239.3 264.3 240.7C260.2 242.1 256.2 243.3 251.3 244.2C246.4 245.1 239.1 245.4 235 246C230.9 246.6 229.7 246.9 227 247.5C224.3 248.1 221.6 248.9 218.8 249.5C216 250.1 212.7 250.5 210 251C207.3 251.5 205 252.4 202.5 252.5C200 252.6 196.8 252.2 195 251.5C193.2 250.8 192.5 249 192 248.5"/>
<path d="M286 232C282.9 233 271.8 236.9 267.6 238.2C263.4 239.5 265.1 239 261 239.8C256.9 240.6 248.7 242.2 243 243C237.3 243.8 231.2 243.9 227 244.5C222.8 245.1 220.7 246 218 246.5C215.3 247 213.3 247.2 210.6 247.5C207.9 247.8 204.4 248.1 202 248C199.6 247.9 197.3 247.7 196 247C194.7 246.3 194.3 244.5 194 244"/>
<path d="M284 231.5C281 232.3 271.7 235.2 266 236.5C260.3 237.8 254.7 238.7 250 239.5C245.3 240.3 242 241 238 241.5C234 242 229.2 242 226 242.5C222.8 243 221.5 244.2 218.8 244.5C216.1 244.8 212.8 244.6 210 244.5C207.2 244.4 204 244.5 202 244C200 243.5 198.7 241.9 198 241.5"/>
<path d="M282 231C279 231.7 269.7 233.9 264 235C258.3 236.1 252.7 236.7 248 237.5C243.3 238.3 240.1 239.3 236 240C231.9 240.7 227.2 241.2 223.7 241.5C220.2 241.8 217.3 242.3 215 242C212.7 241.7 210.3 241 209.8 239.8C209.3 238.6 211.6 235.8 212 235"/>
<path d="M280 230C277 230.5 267.7 232.2 262 233C256.3 233.8 250.3 234.4 246 235C241.7 235.6 239.3 236.1 236 236.5C232.7 236.9 228.7 237.6 226 237.5C223.3 237.4 221.5 236.8 220 236C218.5 235.2 217.5 233.5 217 233"/>
<path d="M278 229C275.3 229.2 267 230 262 230.5C257 231 251.7 231.7 248 232C244.3 232.3 242 232.8 240 232.5C238 232.2 236.3 231.1 236 230C235.7 228.9 237.7 226.7 238 226"/>
<path d="M277 228C275.2 228.2 269.5 228.8 266 229C262.5 229.2 258.7 229.7 256 229.5C253.3 229.3 250.7 228.9 250 228C249.3 227.1 251.7 224.7 252 224"/>
<path d="M331.5 192C332.3 190.8 334.4 189.8 336 189.5C337.6 189.2 339.3 189.6 341 190.5C342.7 191.4 344.7 192.9 346 195C347.3 197.1 348.2 200.2 348.8 203C349.4 205.8 349.4 209.3 349.3 212C349.2 214.7 349.3 217.1 348.5 219C347.7 220.9 346.1 222.8 344.4 223.3C342.7 223.9 340.3 223.3 338.5 222.3C336.7 221.3 334.7 219.6 333.7 217.5C332.7 215.4 333 212 332.7 209.7C332.4 207.4 332 206 331.7 203.9C331.4 201.8 331 199 331 197C331 195 330.7 193.2 331.5 192Z"/>
<path d="M303.7 174.2C304.5 172.9 310.1 171.3 312.7 171.7C315.3 172.1 317.8 174.6 319.2 176.8C320.6 179 320.9 182 321 185C321.1 188 321.2 192.5 320 195C318.8 197.5 316 198.7 314 200C312 201.3 309.7 203.4 308 203C306.3 202.6 304 199.4 303.7 197.6C303.4 195.8 305.4 194.3 306.3 192.4C307.2 190.5 308.7 188.1 308.9 185.9C309.1 183.7 308.5 181.4 307.6 179.4C306.7 177.4 302.9 175.5 303.7 174.2Z"/>
<path d="M290.7 170C291.7 169.1 293.7 169.6 295.9 170.3C298.1 171 301.8 172.7 303.7 174.2C305.6 175.7 306.7 177.4 307.6 179.4C308.5 181.4 309.1 183.7 308.9 185.9C308.7 188.1 307.8 191.1 306.3 192.4C304.8 193.8 302.4 193.9 300 194C297.6 194.1 294.2 192.7 292 193C289.8 193.3 287.4 197.2 287 196C286.6 194.8 288.9 189.3 289.4 185.9C289.9 182.5 289.8 178.2 290 175.5C290.2 172.8 289.7 170.9 290.7 170Z"/>
<path d="M287 196C288.1 193.3 289.8 193.3 292 193C294.2 192.7 297.6 194.1 300 194C302.4 193.9 305.7 191.8 306.3 192.4C306.9 193 303.5 195.9 303.7 197.6C303.9 199.3 307.4 201 307.6 202.7C307.8 204.4 306.3 206.4 305 207.9C303.7 209.4 301.5 210.3 299.8 211.8C298.1 213.3 296.3 215.5 294.6 217C292.9 218.5 291.3 220 289.4 220.9C287.5 221.8 284.5 222.4 283 222.2C281.5 222 280 221.8 280.4 219.6C280.8 217.4 284.4 213.1 285.5 209.2C286.6 205.3 285.9 198.7 287 196Z"/>
<path d="M296 172C296.5 173.3 298.7 177 299 180C299.3 183 298.8 186.7 298 190C297.2 193.3 295 196.3 294 200C293 203.7 293 208.8 292 212C291 215.2 288.7 217.8 288 219"/>
<path d="M301 175C301.4 176.5 303.4 181 303.5 184C303.6 187 302.5 189.8 301.5 193C300.5 196.2 298.4 199.8 297.5 203C296.6 206.2 297.1 209.3 296 212C294.9 214.7 291.8 217.8 291 219"/>
<path d="M310 176C310.4 177.3 312.5 181.2 312.5 184C312.5 186.8 311.2 190.5 310 193C308.8 195.5 306.4 196.7 305 199C303.6 201.3 302.7 204.5 301.5 207C300.3 209.5 298.6 212.8 298 214"/>
<path d="M315.5 178C315.8 179.3 317.2 183.3 317 186C316.8 188.7 315.3 191.5 314 194C312.7 196.5 309.8 199.8 309 201"/>
<path d="M292.5 178C292.7 179.7 293.9 184.7 293.5 188C293.1 191.3 290.9 194.7 290 198C289.1 201.3 288.3 206.3 288 208"/>
</g>
<g fill="none" stroke="#b8b8b8" stroke-width="1.35">
<g stroke-dasharray="2 4.54" stroke-width="1.6">
<path d="M194.9 51.76V563"/>
<path d="M265.7 51.76V563"/>
<path d="M336.4 51.76V563"/>
<path d="M407.2 51.76V563"/>
<path d="M477.9 51.76V563"/>
<path d="M548.7 51.76V563"/>
<path d="M619.5 51.76V563"/>
</g><g stroke-dasharray="1.9 4.66">
<path d="M122.64 105.3H676"/>
<path d="M122.64 190.2H676"/>
<path d="M122.64 275H676"/>
<path d="M122.64 359.9H676"/>
<path d="M122.64 444.8H676"/>
<path d="M122.64 529.6H676"/>
</g>
</g>
<g opacity=".999">
<rect x="547.7" y="72" width="23" height="10.6" fill="#fff"/>
<text x="559.2" y="81.7" text-anchor="middle" font-size="12" stroke="#000" stroke-width=".12">16.5</text>
<rect x="301.2" y="130.7" width="23" height="10.6" fill="#fff"/>
<text x="312.7" y="140.4" text-anchor="middle" font-size="12" stroke="#000" stroke-width=".12">14.5</text>
<rect x="335.7" y="129.7" width="23" height="10.6" fill="#fff"/>
<text x="347.2" y="139.4" text-anchor="middle" font-size="12" stroke="#000" stroke-width=".12">16.5</text>
<rect x="345.4" y="140.2" width="12.5" height="10.6" fill="#fff"/>
<text x="351.7" y="149.9" text-anchor="middle" font-size="12" stroke="#000" stroke-width=".12">17</text>
<rect x="325.2" y="152.7" width="23" height="10.6" fill="#fff"/>
<text x="336.7" y="162.4" text-anchor="middle" font-size="12" stroke="#000" stroke-width=".12">17.5</text>
<rect x="492.2" y="140.7" width="23" height="10.6" fill="#fff"/>
<text x="503.7" y="150.4" text-anchor="middle" font-size="12" stroke="#000" stroke-width=".12">17.5</text>
<rect x="581" y="152.2" width="12.5" height="10.6" fill="#fff"/>
<text x="587.2" y="161.9" text-anchor="middle" font-size="12" stroke="#000" stroke-width=".12">17</text>
<rect x="426.4" y="170" width="12.5" height="10.6" fill="#fff"/>
<text x="432.7" y="179.7" text-anchor="middle" font-size="12" stroke="#000" stroke-width=".12">18</text>
<rect x="307.5" y="186.4" width="23" height="10.6" fill="#fff"/>
<text x="319" y="196.1" text-anchor="middle" font-size="12" stroke="#000" stroke-width=".12">15.5</text>
<rect x="313.4" y="182.5" width="12.5" height="10.6" fill="#fff"/>
<text x="319.7" y="192.2" text-anchor="middle" font-size="12" stroke="#000" stroke-width=".12">16</text>
<rect x="307.5" y="198.4" width="23" height="10.6" fill="#fff"/>
<text x="319" y="208.1" text-anchor="middle" font-size="12" stroke="#000" stroke-width=".12">16.5</text>
<rect x="333.8" y="208.2" width="12.5" height="10.6" fill="#fff"/>
<text x="340.1" y="217.9" text-anchor="middle" font-size="12" stroke="#000" stroke-width=".12">15</text>
<rect x="376.4" y="206.7" width="12.5" height="10.6" fill="#fff"/>
<text x="382.7" y="216.4" text-anchor="middle" font-size="12" stroke="#000" stroke-width=".12">18</text>
<rect x="592" y="190.2" width="12.5" height="10.6" fill="#fff"/>
<text x="598.2" y="199.9" text-anchor="middle" font-size="12" stroke="#000" stroke-width=".12">17</text>
<rect x="475.4" y="220.7" width="12.5" height="10.6" fill="#fff"/>
<text x="481.7" y="230.4" text-anchor="middle" font-size="12" stroke="#000" stroke-width=".12">18</text>
<rect x="240.2" y="230.3" width="23" height="10.6" fill="#fff"/>
<text x="251.7" y="240" text-anchor="middle" font-size="12" stroke="#000" stroke-width=".12">14.5</text>
<rect x="233" y="235.7" width="23" height="10.6" fill="#fff"/>
<text x="244.5" y="245.4" text-anchor="middle" font-size="12" stroke="#000" stroke-width=".12">15.5</text>
<rect x="231.3" y="236.5" width="12.5" height="10.6" fill="#fff"/>
<text x="237.6" y="246.2" text-anchor="middle" font-size="12" stroke="#000" stroke-width=".12">16</text>
<rect x="203.4" y="256.7" width="12.5" height="10.6" fill="#fff"/>
<text x="209.7" y="266.4" text-anchor="middle" font-size="12" stroke="#000" stroke-width=".12">17</text>
<rect x="364.2" y="250.2" width="23" height="10.6" fill="#fff"/>
<text x="375.7" y="259.9" text-anchor="middle" font-size="12" stroke="#000" stroke-width=".12">17.5</text>
<rect x="358.9" y="260.2" width="12.5" height="10.6" fill="#fff"/>
<text x="365.2" y="269.9" text-anchor="middle" font-size="12" stroke="#000" stroke-width=".12">18</text>
<rect x="527.2" y="244.2" width="23" height="10.6" fill="#fff"/>
<text x="538.7" y="253.9" text-anchor="middle" font-size="12" stroke="#000" stroke-width=".12">17.5</text>
<rect x="527.2" y="255.2" width="23" height="10.6" fill="#fff"/>
<text x="538.7" y="264.9" text-anchor="middle" font-size="12" stroke="#000" stroke-width=".12">17.5</text>
<rect x="195.2" y="293.7" width="23" height="10.6" fill="#fff"/>
<text x="206.7" y="303.4" text-anchor="middle" font-size="12" stroke="#000" stroke-width=".12">17.5</text>
<rect x="252.9" y="318.2" width="12.5" height="10.6" fill="#fff"/>
<text x="259.2" y="327.9" text-anchor="middle" font-size="12" stroke="#000" stroke-width=".12">18</text>
<rect x="399.2" y="357.2" width="23" height="10.6" fill="#fff"/>
<text x="410.7" y="366.9" text-anchor="middle" font-size="12" stroke="#000" stroke-width=".12">17.5</text>
<rect x="397.4" y="389.2" width="12.5" height="10.6" fill="#fff"/>
<text x="403.7" y="398.9" text-anchor="middle" font-size="12" stroke="#000" stroke-width=".12">18</text>
<rect x="470.2" y="387.7" width="23" height="10.6" fill="#fff"/>
<text x="481.7" y="397.4" text-anchor="middle" font-size="12" stroke="#000" stroke-width=".12">17.5</text>
<rect x="146.4" y="404.7" width="12.5" height="10.6" fill="#fff"/>
<text x="152.7" y="414.4" text-anchor="middle" font-size="12" stroke="#000" stroke-width=".12">18</text>
<rect x="551.2" y="423.7" width="23" height="10.6" fill="#fff"/>
<text x="562.7" y="433.4" text-anchor="middle" font-size="12" stroke="#000" stroke-width=".12">17.5</text>
<rect x="560.5" y="436.2" width="12.5" height="10.6" fill="#fff"/>
<text x="566.7" y="445.9" text-anchor="middle" font-size="12" stroke="#000" stroke-width=".12">18</text>
<rect x="551.2" y="456.2" width="23" height="10.6" fill="#fff"/>
<text x="562.7" y="465.9" text-anchor="middle" font-size="12" stroke="#000" stroke-width=".12">18.5</text>
<rect x="307.7" y="490.2" width="23" height="10.6" fill="#fff"/>
<text x="319.2" y="499.9" text-anchor="middle" font-size="12" stroke="#000" stroke-width=".12">18.5</text>
<rect x="332.2" y="499.7" width="23" height="10.6" fill="#fff"/>
<text x="343.7" y="509.4" text-anchor="middle" font-size="12" stroke="#000" stroke-width=".12">18.5</text>
<rect x="505.2" y="536.2" width="23" height="10.6" fill="#fff"/>
<text x="516.7" y="545.9" text-anchor="middle" font-size="12" stroke="#000" stroke-width=".12">18.5</text>
</g>
<g font-size="21.3" fill="#444" stroke="#fff" stroke-width=".45" opacity=".999"><text x="146.3" y="109" textLength="13" lengthAdjust="spacingAndGlyphs">Z</text><text x="174" y="109" textLength="15.7" lengthAdjust="spacingAndGlyphs">=</text><text x="205.5" y="109" textLength="34.2" lengthAdjust="spacingAndGlyphs">2.5</text><text x="256" y="109" textLength="22.5" lengthAdjust="spacingAndGlyphs">m</text></g>
</g>
<rect x="124.2" y="54.6" width="552" height="508.4" fill="none" stroke="#000" stroke-width="2.1"/>
<g opacity=".999">
<path d="M124.2 563v4.5M194.9 563v4.5M265.7 563v4.5M336.4 563v4.5M407.2 563v4.5M477.9 563v4.5M548.7 563v4.5M619.5 563v4.5M124 105.3h-4.5M124 190.2h-4.5M124 275h-4.5M124 359.9h-4.5M124 444.8h-4.5M124 529.6h-4.5" stroke="#000" stroke-width="1.2" fill="none"/>
<g font-size="12.8" stroke="#000" stroke-width=".4" text-anchor="middle">
<text transform="translate(124.2,578.8) scale(.92,1)">28.5</text>
<text transform="translate(194.9,578.8) scale(.92,1)">29</text>
<text transform="translate(265.7,578.8) scale(.92,1)">29.5</text>
<text transform="translate(336.4,578.8) scale(.92,1)">30</text>
<text transform="translate(407.2,578.8) scale(.92,1)">30.5</text>
<text transform="translate(477.9,578.8) scale(.92,1)">31</text>
<text transform="translate(548.7,578.8) scale(.92,1)">31.5</text>
<text transform="translate(619.5,578.8) scale(.92,1)">32</text>
</g>
<g font-size="12.8" stroke="#000" stroke-width=".4" text-anchor="end">
<text transform="translate(117.3,110) scale(.92,1)">45.5</text>
<text transform="translate(117.3,194.9) scale(.92,1)">45</text>
<text transform="translate(117.3,279.7) scale(.92,1)">44.5</text>
<text transform="translate(117.3,364.6) scale(.92,1)">44</text>
<text transform="translate(117.3,449.5) scale(.92,1)">43.5</text>
<text transform="translate(117.3,534.3) scale(.92,1)">43</text>
</g>
<g font-size="27" stroke="#fff" stroke-width=".4" fill="#000">
<text x="75.2" y="42.9" textLength="80.6" lengthAdjust="spacingAndGlyphs">Salinity</text>
<text x="168" y="42.9" textLength="64.4" lengthAdjust="spacingAndGlyphs">(ppt).</text>
<text x="244.6" y="42.9" textLength="51.2" lengthAdjust="spacingAndGlyphs">Date</text>
<text x="308.8" y="42.9" textLength="137.7" lengthAdjust="spacingAndGlyphs">2025.06.23.</text>
<text x="460.8" y="42.9" textLength="51.3" lengthAdjust="spacingAndGlyphs">Time</text>
<text x="524.2" y="42.9" textLength="144.1" lengthAdjust="spacingAndGlyphs">00(h):00(m)</text>
<text x="680.8" y="42.9" textLength="45.6" lengthAdjust="spacingAndGlyphs">GMT</text>
</g>
<g font-size="20" stroke="#fff" stroke-width=".3">
<text x="321.8" y="605.3" textLength="90.5" lengthAdjust="spacingAndGlyphs">Longitude</text>
<text x="421" y="605.3" textLength="55.5" lengthAdjust="spacingAndGlyphs">(East)</text>
<g transform="translate(82.9,383.3) rotate(-90)"><text x="0" y="0" textLength="73" lengthAdjust="spacingAndGlyphs">Latitude</text><text x="83" y="0" textLength="64.5" lengthAdjust="spacingAndGlyphs">(North)</text></g>
</g>
<g shape-rendering="crispEdges">
<rect x="709" y="62.00" width="14" height="6.39" fill="#860000"/>
<rect x="709" y="68.09" width="14" height="6.39" fill="#920000"/>
<rect x="709" y="74.19" width="14" height="6.39" fill="#9f0000"/>
<rect x="709" y="80.28" width="14" height="6.39" fill="#ac0000"/>
<rect x="709" y="86.37" width="14" height="6.39" fill="#b80000"/>
<rect x="709" y="92.46" width="14" height="6.39" fill="#c50000"/>
<rect x="709" y="98.56" width="14" height="6.39" fill="#d10000"/>
<rect x="709" y="104.65" width="14" height="6.39" fill="#de0000"/>
<rect x="709" y="110.74" width="14" height="6.39" fill="#eb0000"/>
<rect x="709" y="116.83" width="14" height="6.39" fill="#f70000"/>
<rect x="709" y="122.93" width="14" height="6.39" fill="#ff0500"/>
<rect x="709" y="129.02" width="14" height="6.39" fill="#ff1100"/>
<rect x="709" y="135.11" width="14" height="6.39" fill="#ff1e00"/>
<rect x="709" y="141.20" width="14" height="6.39" fill="#ff2a00"/>
<rect x="709" y="147.30" width="14" height="6.39" fill="#ff3700"/>
<rect x="709" y="153.39" width="14" height="6.39" fill="#ff4400"/>
<rect x="709" y="159.48" width="14" height="6.39" fill="#ff5000"/>
<rect x="709" y="165.57" width="14" height="6.39" fill="#ff5d00"/>
<rect x="709" y="171.67" width="14" height="6.39" fill="#ff6900"/>
<rect x="709" y="177.76" width="14" height="6.39" fill="#ff7600"/>
<rect x="709" y="183.85" width="14" height="6.39" fill="#ff8300"/>
<rect x="709" y="189.94" width="14" height="6.39" fill="#ff8f00"/>
<rect x="709" y="196.04" width="14" height="6.39" fill="#ff9c00"/>
<rect x="709" y="202.13" width="14" height="6.39" fill="#ffa800"/>
<rect x="709" y="208.22" width="14" height="6.39" fill="#ffb500"/>
<rect x="709" y="214.31" width="14" height="6.39" fill="#ffc200"/>
<rect x="709" y="220.41" width="14" height="6.39" fill="#ffce00"/>
<rect x="709" y="226.50" width="14" height="6.39" fill="#ffdb00"/>
<rect x="709" y="232.59" width="14" height="6.39" fill="#ffe700"/>
<rect x="709" y="238.69" width="14" height="6.39" fill="#fff400"/>
<rect x="709" y="244.78" width="14" height="6.39" fill="#fdff02"/>
<rect x="709" y="250.87" width="14" height="6.39" fill="#f1ff0e"/>
<rect x="709" y="256.96" width="14" height="6.39" fill="#e4ff1b"/>
<rect x="709" y="263.06" width="14" height="6.39" fill="#d8ff27"/>
<rect x="709" y="269.15" width="14" height="6.39" fill="#cbff34"/>
<rect x="709" y="275.24" width="14" height="6.39" fill="#beff41"/>
<rect x="709" y="281.33" width="14" height="6.39" fill="#b2ff4d"/>
<rect x="709" y="287.43" width="14" height="6.39" fill="#a5ff5a"/>
<rect x="709" y="293.52" width="14" height="6.39" fill="#99ff66"/>
<rect x="709" y="299.61" width="14" height="6.39" fill="#8cff73"/>
<rect x="709" y="305.70" width="14" height="6.39" fill="#80ff80"/>
<rect x="709" y="311.80" width="14" height="6.39" fill="#73ff8c"/>
<rect x="709" y="317.89" width="14" height="6.39" fill="#66ff99"/>
<rect x="709" y="323.98" width="14" height="6.39" fill="#5affa5"/>
<rect x="709" y="330.07" width="14" height="6.39" fill="#4dffb2"/>
<rect x="709" y="336.17" width="14" height="6.39" fill="#41ffbe"/>
<rect x="709" y="342.26" width="14" height="6.39" fill="#34ffcb"/>
<rect x="709" y="348.35" width="14" height="6.39" fill="#27ffd8"/>
<rect x="709" y="354.44" width="14" height="6.39" fill="#1bffe4"/>
<rect x="709" y="360.54" width="14" height="6.39" fill="#0efff1"/>
<rect x="709" y="366.63" width="14" height="6.39" fill="#02fffd"/>
<rect x="709" y="372.72" width="14" height="6.39" fill="#00f4ff"/>
<rect x="709" y="378.81" width="14" height="6.39" fill="#00e7ff"/>
<rect x="709" y="384.91" width="14" height="6.39" fill="#00dbff"/>
<rect x="709" y="391.00" width="14" height="6.39" fill="#00ceff"/>
<rect x="709" y="397.09" width="14" height="6.39" fill="#00c2ff"/>
<rect x="709" y="403.19" width="14" height="6.39" fill="#00b5ff"/>
<rect x="709" y="409.28" width="14" height="6.39" fill="#00a8ff"/>
<rect x="709" y="415.37" width="14" height="6.39" fill="#009cff"/>
<rect x="709" y="421.46" width="14" height="6.39" fill="#008fff"/>
<rect x="709" y="427.56" width="14" height="6.39" fill="#0083ff"/>
<rect x="709" y="433.65" width="14" height="6.39" fill="#0076ff"/>
<rect x="709" y="439.74" width="14" height="6.39" fill="#0069ff"/>
<rect x="709" y="445.83" width="14" height="6.39" fill="#005dff"/>
<rect x="709" y="451.93" width="14" height="6.39" fill="#0050ff"/>
<rect x="709" y="458.02" width="14" height="6.39" fill="#0044ff"/>
<rect x="709" y="464.11" width="14" height="6.39" fill="#0037ff"/>
<rect x="709" y="470.20" width="14" height="6.39" fill="#002aff"/>
<rect x="709" y="476.30" width="14" height="6.39" fill="#001eff"/>
<rect x="709" y="482.39" width="14" height="6.39" fill="#0011ff"/>
<rect x="709" y="488.48" width="14" height="6.39" fill="#0005ff"/>
<rect x="709" y="494.57" width="14" height="6.39" fill="#0000f7"/>
<rect x="709" y="500.67" width="14" height="6.39" fill="#0000eb"/>
<rect x="709" y="506.76" width="14" height="6.39" fill="#0000de"/>
<rect x="709" y="512.85" width="14" height="6.39" fill="#0000d1"/>
<rect x="709" y="518.94" width="14" height="6.39" fill="#0000c5"/>
<rect x="709" y="525.04" width="14" height="6.39" fill="#0000b8"/>
<rect x="709" y="531.13" width="14" height="6.39" fill="#0000ac"/>
<rect x="709" y="537.22" width="14" height="6.39" fill="#00009f"/>
<rect x="709" y="543.31" width="14" height="6.39" fill="#000092"/>
<rect x="709" y="549.41" width="14" height="6.39" fill="#000086"/>
</g>
<g font-size="15" stroke="#000" stroke-width=".2">
<text x="735.5" y="73.2">18.7</text>
<text x="735.5" y="189.7">15.9</text>
<text x="735.5" y="310.5">13.0</text>
<text x="735.5" y="433.5">10.1</text>
<text x="735.5" y="556.5">7.24</text>
</g>
</g>
</svg>
</body></html>
